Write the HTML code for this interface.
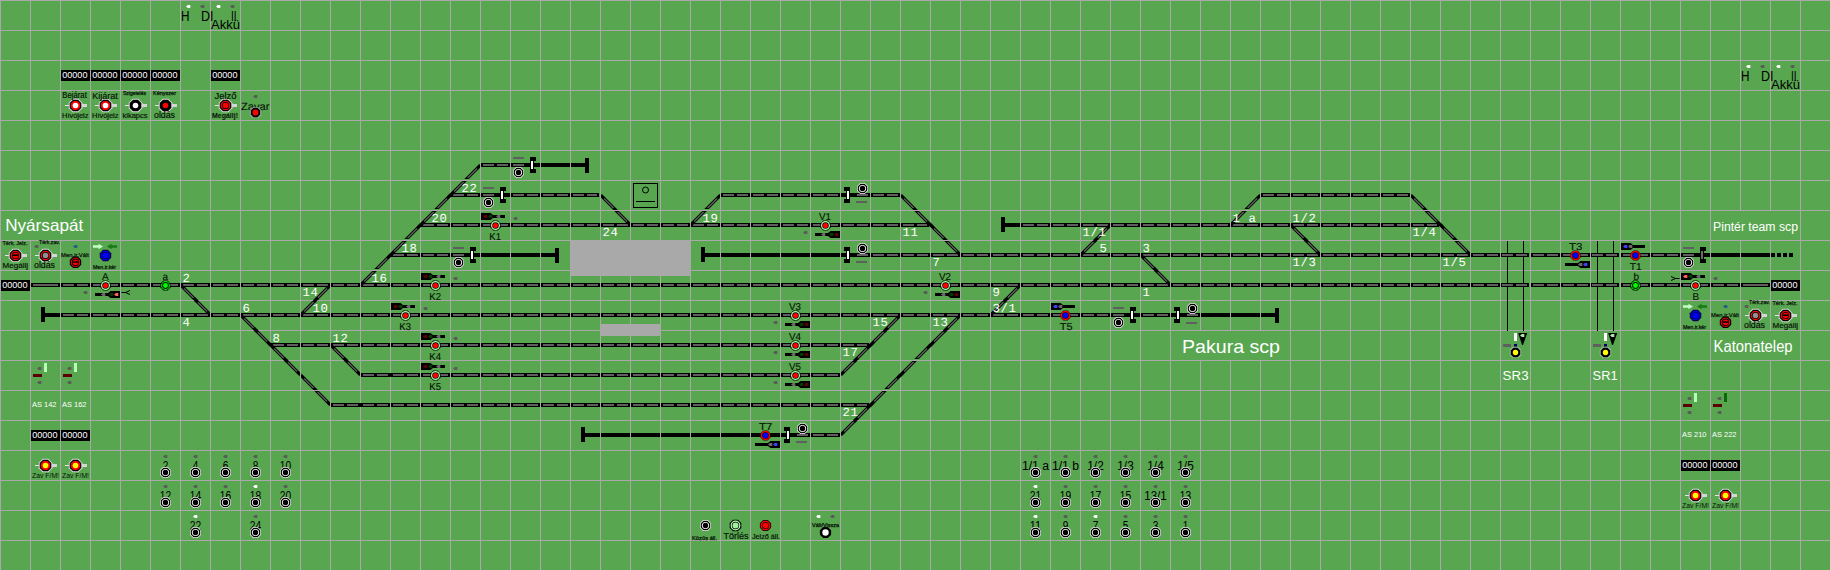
<!DOCTYPE html>
<html lang="hu"><head><meta charset="utf-8"><title>Nyársapát – Katonatelep</title>
<style>html,body{margin:0;padding:0;background:#58a650;overflow:hidden}svg{display:block}text{white-space:pre}</style>
</head><body>
<svg width="1830" height="570" viewBox="0 0 1830 570">
<rect width="1830" height="570" fill="#58a650"/>
<g shape-rendering="crispEdges">
<rect x="480" y="163" width="50" height="4" fill="#000"/>
<rect x="483" y="164" width="11" height="2" fill="#5f5f5f"/>
<rect x="497" y="164" width="11" height="2" fill="#5f5f5f"/>
<rect x="513" y="164" width="11" height="2" fill="#5f5f5f"/>
<rect x="530" y="163" width="56" height="4" fill="#000"/>
<rect x="450" y="193" width="149" height="4" fill="#000"/>
<rect x="453" y="194" width="11" height="2" fill="#5f5f5f"/>
<rect x="467" y="194" width="11" height="2" fill="#5f5f5f"/>
<rect x="483" y="194" width="11" height="2" fill="#5f5f5f"/>
<rect x="513" y="194" width="11" height="2" fill="#5f5f5f"/>
<rect x="527" y="194" width="11" height="2" fill="#5f5f5f"/>
<rect x="543" y="194" width="11" height="2" fill="#5f5f5f"/>
<rect x="557" y="194" width="11" height="2" fill="#5f5f5f"/>
<rect x="573" y="194" width="11" height="2" fill="#5f5f5f"/>
<rect x="587" y="194" width="10" height="2" fill="#5f5f5f"/>
<rect x="720" y="193" width="180" height="4" fill="#000"/>
<rect x="723" y="194" width="11" height="2" fill="#5f5f5f"/>
<rect x="737" y="194" width="11" height="2" fill="#5f5f5f"/>
<rect x="753" y="194" width="11" height="2" fill="#5f5f5f"/>
<rect x="767" y="194" width="11" height="2" fill="#5f5f5f"/>
<rect x="783" y="194" width="11" height="2" fill="#5f5f5f"/>
<rect x="797" y="194" width="11" height="2" fill="#5f5f5f"/>
<rect x="813" y="194" width="11" height="2" fill="#5f5f5f"/>
<rect x="827" y="194" width="11" height="2" fill="#5f5f5f"/>
<rect x="857" y="194" width="11" height="2" fill="#5f5f5f"/>
<rect x="873" y="194" width="11" height="2" fill="#5f5f5f"/>
<rect x="887" y="194" width="11" height="2" fill="#5f5f5f"/>
<rect x="1260" y="193" width="150" height="4" fill="#000"/>
<rect x="1263" y="194" width="11" height="2" fill="#5f5f5f"/>
<rect x="1277" y="194" width="11" height="2" fill="#5f5f5f"/>
<rect x="1293" y="194" width="11" height="2" fill="#5f5f5f"/>
<rect x="1307" y="194" width="11" height="2" fill="#5f5f5f"/>
<rect x="1323" y="194" width="11" height="2" fill="#5f5f5f"/>
<rect x="1337" y="194" width="11" height="2" fill="#5f5f5f"/>
<rect x="1353" y="194" width="11" height="2" fill="#5f5f5f"/>
<rect x="1367" y="194" width="11" height="2" fill="#5f5f5f"/>
<rect x="1383" y="194" width="11" height="2" fill="#5f5f5f"/>
<rect x="1397" y="194" width="11" height="2" fill="#5f5f5f"/>
<rect x="420" y="223" width="509" height="4" fill="#000"/>
<rect x="423" y="224" width="11" height="2" fill="#5f5f5f"/>
<rect x="437" y="224" width="11" height="2" fill="#5f5f5f"/>
<rect x="453" y="224" width="11" height="2" fill="#5f5f5f"/>
<rect x="467" y="224" width="11" height="2" fill="#5f5f5f"/>
<rect x="483" y="224" width="11" height="2" fill="#5f5f5f"/>
<rect x="497" y="224" width="11" height="2" fill="#5f5f5f"/>
<rect x="513" y="224" width="11" height="2" fill="#5f5f5f"/>
<rect x="527" y="224" width="11" height="2" fill="#5f5f5f"/>
<rect x="543" y="224" width="11" height="2" fill="#5f5f5f"/>
<rect x="557" y="224" width="11" height="2" fill="#5f5f5f"/>
<rect x="573" y="224" width="11" height="2" fill="#5f5f5f"/>
<rect x="587" y="224" width="11" height="2" fill="#5f5f5f"/>
<rect x="603" y="224" width="11" height="2" fill="#5f5f5f"/>
<rect x="617" y="224" width="11" height="2" fill="#5f5f5f"/>
<rect x="633" y="224" width="11" height="2" fill="#5f5f5f"/>
<rect x="647" y="224" width="11" height="2" fill="#5f5f5f"/>
<rect x="663" y="224" width="11" height="2" fill="#5f5f5f"/>
<rect x="677" y="224" width="11" height="2" fill="#5f5f5f"/>
<rect x="693" y="224" width="11" height="2" fill="#5f5f5f"/>
<rect x="707" y="224" width="11" height="2" fill="#5f5f5f"/>
<rect x="723" y="224" width="11" height="2" fill="#5f5f5f"/>
<rect x="737" y="224" width="11" height="2" fill="#5f5f5f"/>
<rect x="753" y="224" width="11" height="2" fill="#5f5f5f"/>
<rect x="767" y="224" width="11" height="2" fill="#5f5f5f"/>
<rect x="783" y="224" width="11" height="2" fill="#5f5f5f"/>
<rect x="797" y="224" width="11" height="2" fill="#5f5f5f"/>
<rect x="813" y="224" width="11" height="2" fill="#5f5f5f"/>
<rect x="827" y="224" width="11" height="2" fill="#5f5f5f"/>
<rect x="843" y="224" width="11" height="2" fill="#5f5f5f"/>
<rect x="857" y="224" width="11" height="2" fill="#5f5f5f"/>
<rect x="873" y="224" width="11" height="2" fill="#5f5f5f"/>
<rect x="887" y="224" width="11" height="2" fill="#5f5f5f"/>
<rect x="903" y="224" width="11" height="2" fill="#5f5f5f"/>
<rect x="917" y="224" width="10" height="2" fill="#5f5f5f"/>
<rect x="1005" y="223" width="15" height="4" fill="#000"/>
<rect x="1020" y="223" width="419" height="4" fill="#000"/>
<rect x="1023" y="224" width="11" height="2" fill="#5f5f5f"/>
<rect x="1037" y="224" width="11" height="2" fill="#5f5f5f"/>
<rect x="1053" y="224" width="11" height="2" fill="#5f5f5f"/>
<rect x="1067" y="224" width="11" height="2" fill="#5f5f5f"/>
<rect x="1083" y="224" width="11" height="2" fill="#5f5f5f"/>
<rect x="1097" y="224" width="11" height="2" fill="#5f5f5f"/>
<rect x="1113" y="224" width="11" height="2" fill="#5f5f5f"/>
<rect x="1127" y="224" width="11" height="2" fill="#5f5f5f"/>
<rect x="1143" y="224" width="11" height="2" fill="#5f5f5f"/>
<rect x="1157" y="224" width="11" height="2" fill="#5f5f5f"/>
<rect x="1173" y="224" width="11" height="2" fill="#5f5f5f"/>
<rect x="1187" y="224" width="11" height="2" fill="#5f5f5f"/>
<rect x="1203" y="224" width="11" height="2" fill="#5f5f5f"/>
<rect x="1217" y="224" width="11" height="2" fill="#5f5f5f"/>
<rect x="1233" y="224" width="11" height="2" fill="#5f5f5f"/>
<rect x="1247" y="224" width="11" height="2" fill="#5f5f5f"/>
<rect x="1263" y="224" width="11" height="2" fill="#5f5f5f"/>
<rect x="1277" y="224" width="11" height="2" fill="#5f5f5f"/>
<rect x="1293" y="224" width="11" height="2" fill="#5f5f5f"/>
<rect x="1307" y="224" width="11" height="2" fill="#5f5f5f"/>
<rect x="1323" y="224" width="11" height="2" fill="#5f5f5f"/>
<rect x="1337" y="224" width="11" height="2" fill="#5f5f5f"/>
<rect x="1353" y="224" width="11" height="2" fill="#5f5f5f"/>
<rect x="1367" y="224" width="11" height="2" fill="#5f5f5f"/>
<rect x="1383" y="224" width="11" height="2" fill="#5f5f5f"/>
<rect x="1397" y="224" width="11" height="2" fill="#5f5f5f"/>
<rect x="1413" y="224" width="11" height="2" fill="#5f5f5f"/>
<rect x="1427" y="224" width="10" height="2" fill="#5f5f5f"/>
<rect x="390" y="253" width="80" height="4" fill="#000"/>
<rect x="393" y="254" width="11" height="2" fill="#5f5f5f"/>
<rect x="407" y="254" width="11" height="2" fill="#5f5f5f"/>
<rect x="423" y="254" width="11" height="2" fill="#5f5f5f"/>
<rect x="437" y="254" width="11" height="2" fill="#5f5f5f"/>
<rect x="453" y="254" width="11" height="2" fill="#5f5f5f"/>
<rect x="470" y="253" width="86" height="4" fill="#000"/>
<rect x="705" y="253" width="141" height="4" fill="#000"/>
<rect x="846" y="253" width="856" height="4" fill="#000"/>
<rect x="857" y="254" width="11" height="2" fill="#5f5f5f"/>
<rect x="873" y="254" width="11" height="2" fill="#5f5f5f"/>
<rect x="887" y="254" width="11" height="2" fill="#5f5f5f"/>
<rect x="903" y="254" width="11" height="2" fill="#5f5f5f"/>
<rect x="917" y="254" width="11" height="2" fill="#5f5f5f"/>
<rect x="933" y="254" width="11" height="2" fill="#5f5f5f"/>
<rect x="947" y="254" width="11" height="2" fill="#5f5f5f"/>
<rect x="963" y="254" width="11" height="2" fill="#5f5f5f"/>
<rect x="977" y="254" width="11" height="2" fill="#5f5f5f"/>
<rect x="993" y="254" width="11" height="2" fill="#5f5f5f"/>
<rect x="1007" y="254" width="11" height="2" fill="#5f5f5f"/>
<rect x="1023" y="254" width="11" height="2" fill="#5f5f5f"/>
<rect x="1037" y="254" width="11" height="2" fill="#5f5f5f"/>
<rect x="1053" y="254" width="11" height="2" fill="#5f5f5f"/>
<rect x="1067" y="254" width="11" height="2" fill="#5f5f5f"/>
<rect x="1083" y="254" width="11" height="2" fill="#5f5f5f"/>
<rect x="1097" y="254" width="11" height="2" fill="#5f5f5f"/>
<rect x="1113" y="254" width="11" height="2" fill="#5f5f5f"/>
<rect x="1127" y="254" width="11" height="2" fill="#5f5f5f"/>
<rect x="1143" y="254" width="11" height="2" fill="#5f5f5f"/>
<rect x="1157" y="254" width="11" height="2" fill="#5f5f5f"/>
<rect x="1173" y="254" width="11" height="2" fill="#5f5f5f"/>
<rect x="1187" y="254" width="11" height="2" fill="#5f5f5f"/>
<rect x="1203" y="254" width="11" height="2" fill="#5f5f5f"/>
<rect x="1217" y="254" width="11" height="2" fill="#5f5f5f"/>
<rect x="1233" y="254" width="11" height="2" fill="#5f5f5f"/>
<rect x="1247" y="254" width="11" height="2" fill="#5f5f5f"/>
<rect x="1263" y="254" width="11" height="2" fill="#5f5f5f"/>
<rect x="1277" y="254" width="11" height="2" fill="#5f5f5f"/>
<rect x="1293" y="254" width="11" height="2" fill="#5f5f5f"/>
<rect x="1307" y="254" width="11" height="2" fill="#5f5f5f"/>
<rect x="1323" y="254" width="11" height="2" fill="#5f5f5f"/>
<rect x="1337" y="254" width="11" height="2" fill="#5f5f5f"/>
<rect x="1353" y="254" width="11" height="2" fill="#5f5f5f"/>
<rect x="1367" y="254" width="11" height="2" fill="#5f5f5f"/>
<rect x="1383" y="254" width="11" height="2" fill="#5f5f5f"/>
<rect x="1397" y="254" width="11" height="2" fill="#5f5f5f"/>
<rect x="1413" y="254" width="11" height="2" fill="#5f5f5f"/>
<rect x="1427" y="254" width="11" height="2" fill="#5f5f5f"/>
<rect x="1443" y="254" width="11" height="2" fill="#5f5f5f"/>
<rect x="1457" y="254" width="11" height="2" fill="#5f5f5f"/>
<rect x="1473" y="254" width="11" height="2" fill="#5f5f5f"/>
<rect x="1487" y="254" width="11" height="2" fill="#5f5f5f"/>
<rect x="1503" y="254" width="11" height="2" fill="#5f5f5f"/>
<rect x="1517" y="254" width="11" height="2" fill="#5f5f5f"/>
<rect x="1533" y="254" width="11" height="2" fill="#5f5f5f"/>
<rect x="1547" y="254" width="11" height="2" fill="#5f5f5f"/>
<rect x="1563" y="254" width="11" height="2" fill="#5f5f5f"/>
<rect x="1577" y="254" width="11" height="2" fill="#5f5f5f"/>
<rect x="1593" y="254" width="11" height="2" fill="#5f5f5f"/>
<rect x="1607" y="254" width="11" height="2" fill="#5f5f5f"/>
<rect x="1623" y="254" width="11" height="2" fill="#5f5f5f"/>
<rect x="1637" y="254" width="11" height="2" fill="#5f5f5f"/>
<rect x="1653" y="254" width="11" height="2" fill="#5f5f5f"/>
<rect x="1667" y="254" width="11" height="2" fill="#5f5f5f"/>
<rect x="1683" y="254" width="11" height="2" fill="#5f5f5f"/>
<rect x="1702" y="253" width="68" height="4" fill="#000"/>
<rect x="1771" y="253" width="4" height="4" fill="#000"/>
<rect x="1777" y="253" width="4" height="4" fill="#000"/>
<rect x="1783" y="253" width="4" height="4" fill="#000"/>
<rect x="1789" y="253" width="4" height="4" fill="#000"/>
<rect x="30" y="283" width="1740" height="4" fill="#000"/>
<rect x="33" y="284" width="25" height="2" fill="#5f5f5f"/>
<rect x="63" y="284" width="11" height="2" fill="#5f5f5f"/>
<rect x="77" y="284" width="11" height="2" fill="#5f5f5f"/>
<rect x="93" y="284" width="11" height="2" fill="#5f5f5f"/>
<rect x="107" y="284" width="11" height="2" fill="#5f5f5f"/>
<rect x="123" y="284" width="11" height="2" fill="#5f5f5f"/>
<rect x="137" y="284" width="11" height="2" fill="#5f5f5f"/>
<rect x="153" y="284" width="11" height="2" fill="#5f5f5f"/>
<rect x="167" y="284" width="11" height="2" fill="#5f5f5f"/>
<rect x="183" y="284" width="11" height="2" fill="#5f5f5f"/>
<rect x="197" y="284" width="11" height="2" fill="#5f5f5f"/>
<rect x="213" y="284" width="11" height="2" fill="#5f5f5f"/>
<rect x="227" y="284" width="11" height="2" fill="#5f5f5f"/>
<rect x="243" y="284" width="11" height="2" fill="#5f5f5f"/>
<rect x="257" y="284" width="11" height="2" fill="#5f5f5f"/>
<rect x="273" y="284" width="11" height="2" fill="#5f5f5f"/>
<rect x="287" y="284" width="11" height="2" fill="#5f5f5f"/>
<rect x="303" y="284" width="11" height="2" fill="#5f5f5f"/>
<rect x="317" y="284" width="11" height="2" fill="#5f5f5f"/>
<rect x="333" y="284" width="11" height="2" fill="#5f5f5f"/>
<rect x="347" y="284" width="11" height="2" fill="#5f5f5f"/>
<rect x="363" y="284" width="11" height="2" fill="#5f5f5f"/>
<rect x="377" y="284" width="11" height="2" fill="#5f5f5f"/>
<rect x="393" y="284" width="11" height="2" fill="#5f5f5f"/>
<rect x="407" y="284" width="11" height="2" fill="#5f5f5f"/>
<rect x="423" y="284" width="11" height="2" fill="#5f5f5f"/>
<rect x="437" y="284" width="11" height="2" fill="#5f5f5f"/>
<rect x="453" y="284" width="11" height="2" fill="#5f5f5f"/>
<rect x="467" y="284" width="11" height="2" fill="#5f5f5f"/>
<rect x="483" y="284" width="11" height="2" fill="#5f5f5f"/>
<rect x="497" y="284" width="11" height="2" fill="#5f5f5f"/>
<rect x="513" y="284" width="11" height="2" fill="#5f5f5f"/>
<rect x="527" y="284" width="11" height="2" fill="#5f5f5f"/>
<rect x="543" y="284" width="11" height="2" fill="#5f5f5f"/>
<rect x="557" y="284" width="11" height="2" fill="#5f5f5f"/>
<rect x="573" y="284" width="11" height="2" fill="#5f5f5f"/>
<rect x="587" y="284" width="11" height="2" fill="#5f5f5f"/>
<rect x="603" y="284" width="11" height="2" fill="#5f5f5f"/>
<rect x="617" y="284" width="11" height="2" fill="#5f5f5f"/>
<rect x="633" y="284" width="11" height="2" fill="#5f5f5f"/>
<rect x="647" y="284" width="11" height="2" fill="#5f5f5f"/>
<rect x="663" y="284" width="11" height="2" fill="#5f5f5f"/>
<rect x="677" y="284" width="11" height="2" fill="#5f5f5f"/>
<rect x="693" y="284" width="11" height="2" fill="#5f5f5f"/>
<rect x="707" y="284" width="11" height="2" fill="#5f5f5f"/>
<rect x="723" y="284" width="11" height="2" fill="#5f5f5f"/>
<rect x="737" y="284" width="11" height="2" fill="#5f5f5f"/>
<rect x="753" y="284" width="11" height="2" fill="#5f5f5f"/>
<rect x="767" y="284" width="11" height="2" fill="#5f5f5f"/>
<rect x="783" y="284" width="11" height="2" fill="#5f5f5f"/>
<rect x="797" y="284" width="11" height="2" fill="#5f5f5f"/>
<rect x="813" y="284" width="11" height="2" fill="#5f5f5f"/>
<rect x="827" y="284" width="11" height="2" fill="#5f5f5f"/>
<rect x="843" y="284" width="11" height="2" fill="#5f5f5f"/>
<rect x="857" y="284" width="11" height="2" fill="#5f5f5f"/>
<rect x="873" y="284" width="11" height="2" fill="#5f5f5f"/>
<rect x="887" y="284" width="11" height="2" fill="#5f5f5f"/>
<rect x="903" y="284" width="11" height="2" fill="#5f5f5f"/>
<rect x="917" y="284" width="11" height="2" fill="#5f5f5f"/>
<rect x="933" y="284" width="11" height="2" fill="#5f5f5f"/>
<rect x="947" y="284" width="11" height="2" fill="#5f5f5f"/>
<rect x="963" y="284" width="11" height="2" fill="#5f5f5f"/>
<rect x="977" y="284" width="11" height="2" fill="#5f5f5f"/>
<rect x="993" y="284" width="11" height="2" fill="#5f5f5f"/>
<rect x="1007" y="284" width="11" height="2" fill="#5f5f5f"/>
<rect x="1023" y="284" width="11" height="2" fill="#5f5f5f"/>
<rect x="1037" y="284" width="11" height="2" fill="#5f5f5f"/>
<rect x="1053" y="284" width="11" height="2" fill="#5f5f5f"/>
<rect x="1067" y="284" width="11" height="2" fill="#5f5f5f"/>
<rect x="1083" y="284" width="11" height="2" fill="#5f5f5f"/>
<rect x="1097" y="284" width="11" height="2" fill="#5f5f5f"/>
<rect x="1113" y="284" width="11" height="2" fill="#5f5f5f"/>
<rect x="1127" y="284" width="11" height="2" fill="#5f5f5f"/>
<rect x="1143" y="284" width="11" height="2" fill="#5f5f5f"/>
<rect x="1157" y="284" width="11" height="2" fill="#5f5f5f"/>
<rect x="1173" y="284" width="11" height="2" fill="#5f5f5f"/>
<rect x="1187" y="284" width="11" height="2" fill="#5f5f5f"/>
<rect x="1203" y="284" width="11" height="2" fill="#5f5f5f"/>
<rect x="1217" y="284" width="11" height="2" fill="#5f5f5f"/>
<rect x="1233" y="284" width="11" height="2" fill="#5f5f5f"/>
<rect x="1247" y="284" width="11" height="2" fill="#5f5f5f"/>
<rect x="1263" y="284" width="11" height="2" fill="#5f5f5f"/>
<rect x="1277" y="284" width="11" height="2" fill="#5f5f5f"/>
<rect x="1293" y="284" width="11" height="2" fill="#5f5f5f"/>
<rect x="1307" y="284" width="11" height="2" fill="#5f5f5f"/>
<rect x="1323" y="284" width="11" height="2" fill="#5f5f5f"/>
<rect x="1337" y="284" width="11" height="2" fill="#5f5f5f"/>
<rect x="1353" y="284" width="11" height="2" fill="#5f5f5f"/>
<rect x="1367" y="284" width="11" height="2" fill="#5f5f5f"/>
<rect x="1383" y="284" width="11" height="2" fill="#5f5f5f"/>
<rect x="1397" y="284" width="11" height="2" fill="#5f5f5f"/>
<rect x="1413" y="284" width="11" height="2" fill="#5f5f5f"/>
<rect x="1427" y="284" width="11" height="2" fill="#5f5f5f"/>
<rect x="1443" y="284" width="11" height="2" fill="#5f5f5f"/>
<rect x="1457" y="284" width="11" height="2" fill="#5f5f5f"/>
<rect x="1473" y="284" width="11" height="2" fill="#5f5f5f"/>
<rect x="1487" y="284" width="11" height="2" fill="#5f5f5f"/>
<rect x="1503" y="284" width="11" height="2" fill="#5f5f5f"/>
<rect x="1517" y="284" width="11" height="2" fill="#5f5f5f"/>
<rect x="1533" y="284" width="11" height="2" fill="#5f5f5f"/>
<rect x="1547" y="284" width="11" height="2" fill="#5f5f5f"/>
<rect x="1563" y="284" width="11" height="2" fill="#5f5f5f"/>
<rect x="1577" y="284" width="11" height="2" fill="#5f5f5f"/>
<rect x="1593" y="284" width="11" height="2" fill="#5f5f5f"/>
<rect x="1607" y="284" width="11" height="2" fill="#5f5f5f"/>
<rect x="1623" y="284" width="11" height="2" fill="#5f5f5f"/>
<rect x="1637" y="284" width="11" height="2" fill="#5f5f5f"/>
<rect x="1653" y="284" width="11" height="2" fill="#5f5f5f"/>
<rect x="1667" y="284" width="11" height="2" fill="#5f5f5f"/>
<rect x="1683" y="284" width="11" height="2" fill="#5f5f5f"/>
<rect x="1697" y="284" width="11" height="2" fill="#5f5f5f"/>
<rect x="1713" y="284" width="11" height="2" fill="#5f5f5f"/>
<rect x="1727" y="284" width="11" height="2" fill="#5f5f5f"/>
<rect x="1743" y="284" width="25" height="2" fill="#5f5f5f"/>
<rect x="45" y="313" width="15" height="4" fill="#000"/>
<rect x="60" y="313" width="1140" height="4" fill="#000"/>
<rect x="63" y="314" width="11" height="2" fill="#5f5f5f"/>
<rect x="77" y="314" width="11" height="2" fill="#5f5f5f"/>
<rect x="93" y="314" width="11" height="2" fill="#5f5f5f"/>
<rect x="107" y="314" width="11" height="2" fill="#5f5f5f"/>
<rect x="123" y="314" width="11" height="2" fill="#5f5f5f"/>
<rect x="137" y="314" width="11" height="2" fill="#5f5f5f"/>
<rect x="153" y="314" width="11" height="2" fill="#5f5f5f"/>
<rect x="167" y="314" width="11" height="2" fill="#5f5f5f"/>
<rect x="183" y="314" width="11" height="2" fill="#5f5f5f"/>
<rect x="197" y="314" width="11" height="2" fill="#5f5f5f"/>
<rect x="213" y="314" width="11" height="2" fill="#5f5f5f"/>
<rect x="227" y="314" width="11" height="2" fill="#5f5f5f"/>
<rect x="243" y="314" width="11" height="2" fill="#5f5f5f"/>
<rect x="257" y="314" width="11" height="2" fill="#5f5f5f"/>
<rect x="273" y="314" width="11" height="2" fill="#5f5f5f"/>
<rect x="287" y="314" width="11" height="2" fill="#5f5f5f"/>
<rect x="303" y="314" width="11" height="2" fill="#5f5f5f"/>
<rect x="317" y="314" width="11" height="2" fill="#5f5f5f"/>
<rect x="333" y="314" width="11" height="2" fill="#5f5f5f"/>
<rect x="347" y="314" width="11" height="2" fill="#5f5f5f"/>
<rect x="363" y="314" width="11" height="2" fill="#5f5f5f"/>
<rect x="377" y="314" width="11" height="2" fill="#5f5f5f"/>
<rect x="393" y="314" width="11" height="2" fill="#5f5f5f"/>
<rect x="407" y="314" width="11" height="2" fill="#5f5f5f"/>
<rect x="423" y="314" width="11" height="2" fill="#5f5f5f"/>
<rect x="437" y="314" width="11" height="2" fill="#5f5f5f"/>
<rect x="453" y="314" width="11" height="2" fill="#5f5f5f"/>
<rect x="467" y="314" width="11" height="2" fill="#5f5f5f"/>
<rect x="483" y="314" width="11" height="2" fill="#5f5f5f"/>
<rect x="497" y="314" width="11" height="2" fill="#5f5f5f"/>
<rect x="513" y="314" width="11" height="2" fill="#5f5f5f"/>
<rect x="527" y="314" width="11" height="2" fill="#5f5f5f"/>
<rect x="543" y="314" width="11" height="2" fill="#5f5f5f"/>
<rect x="557" y="314" width="11" height="2" fill="#5f5f5f"/>
<rect x="573" y="314" width="11" height="2" fill="#5f5f5f"/>
<rect x="587" y="314" width="11" height="2" fill="#5f5f5f"/>
<rect x="603" y="314" width="11" height="2" fill="#5f5f5f"/>
<rect x="617" y="314" width="11" height="2" fill="#5f5f5f"/>
<rect x="633" y="314" width="11" height="2" fill="#5f5f5f"/>
<rect x="647" y="314" width="11" height="2" fill="#5f5f5f"/>
<rect x="663" y="314" width="11" height="2" fill="#5f5f5f"/>
<rect x="677" y="314" width="11" height="2" fill="#5f5f5f"/>
<rect x="693" y="314" width="11" height="2" fill="#5f5f5f"/>
<rect x="707" y="314" width="11" height="2" fill="#5f5f5f"/>
<rect x="723" y="314" width="11" height="2" fill="#5f5f5f"/>
<rect x="737" y="314" width="11" height="2" fill="#5f5f5f"/>
<rect x="753" y="314" width="11" height="2" fill="#5f5f5f"/>
<rect x="767" y="314" width="11" height="2" fill="#5f5f5f"/>
<rect x="783" y="314" width="11" height="2" fill="#5f5f5f"/>
<rect x="797" y="314" width="11" height="2" fill="#5f5f5f"/>
<rect x="813" y="314" width="11" height="2" fill="#5f5f5f"/>
<rect x="827" y="314" width="11" height="2" fill="#5f5f5f"/>
<rect x="843" y="314" width="11" height="2" fill="#5f5f5f"/>
<rect x="857" y="314" width="11" height="2" fill="#5f5f5f"/>
<rect x="873" y="314" width="11" height="2" fill="#5f5f5f"/>
<rect x="887" y="314" width="11" height="2" fill="#5f5f5f"/>
<rect x="903" y="314" width="11" height="2" fill="#5f5f5f"/>
<rect x="917" y="314" width="11" height="2" fill="#5f5f5f"/>
<rect x="933" y="314" width="11" height="2" fill="#5f5f5f"/>
<rect x="947" y="314" width="11" height="2" fill="#5f5f5f"/>
<rect x="963" y="314" width="11" height="2" fill="#5f5f5f"/>
<rect x="977" y="314" width="11" height="2" fill="#5f5f5f"/>
<rect x="993" y="314" width="11" height="2" fill="#5f5f5f"/>
<rect x="1007" y="314" width="11" height="2" fill="#5f5f5f"/>
<rect x="1023" y="314" width="11" height="2" fill="#5f5f5f"/>
<rect x="1037" y="314" width="11" height="2" fill="#5f5f5f"/>
<rect x="1053" y="314" width="11" height="2" fill="#5f5f5f"/>
<rect x="1067" y="314" width="11" height="2" fill="#5f5f5f"/>
<rect x="1083" y="314" width="11" height="2" fill="#5f5f5f"/>
<rect x="1097" y="314" width="11" height="2" fill="#5f5f5f"/>
<rect x="1113" y="314" width="11" height="2" fill="#5f5f5f"/>
<rect x="1143" y="314" width="11" height="2" fill="#5f5f5f"/>
<rect x="1157" y="314" width="11" height="2" fill="#5f5f5f"/>
<rect x="1187" y="314" width="11" height="2" fill="#5f5f5f"/>
<rect x="1199" y="313" width="77" height="4" fill="#000"/>
<rect x="270" y="343" width="599" height="4" fill="#000"/>
<rect x="273" y="344" width="11" height="2" fill="#5f5f5f"/>
<rect x="287" y="344" width="11" height="2" fill="#5f5f5f"/>
<rect x="303" y="344" width="11" height="2" fill="#5f5f5f"/>
<rect x="317" y="344" width="11" height="2" fill="#5f5f5f"/>
<rect x="333" y="344" width="11" height="2" fill="#5f5f5f"/>
<rect x="347" y="344" width="11" height="2" fill="#5f5f5f"/>
<rect x="363" y="344" width="11" height="2" fill="#5f5f5f"/>
<rect x="377" y="344" width="11" height="2" fill="#5f5f5f"/>
<rect x="393" y="344" width="11" height="2" fill="#5f5f5f"/>
<rect x="407" y="344" width="11" height="2" fill="#5f5f5f"/>
<rect x="423" y="344" width="11" height="2" fill="#5f5f5f"/>
<rect x="437" y="344" width="11" height="2" fill="#5f5f5f"/>
<rect x="453" y="344" width="11" height="2" fill="#5f5f5f"/>
<rect x="467" y="344" width="11" height="2" fill="#5f5f5f"/>
<rect x="483" y="344" width="11" height="2" fill="#5f5f5f"/>
<rect x="497" y="344" width="11" height="2" fill="#5f5f5f"/>
<rect x="513" y="344" width="11" height="2" fill="#5f5f5f"/>
<rect x="527" y="344" width="11" height="2" fill="#5f5f5f"/>
<rect x="543" y="344" width="11" height="2" fill="#5f5f5f"/>
<rect x="557" y="344" width="11" height="2" fill="#5f5f5f"/>
<rect x="573" y="344" width="11" height="2" fill="#5f5f5f"/>
<rect x="587" y="344" width="11" height="2" fill="#5f5f5f"/>
<rect x="603" y="344" width="11" height="2" fill="#5f5f5f"/>
<rect x="617" y="344" width="11" height="2" fill="#5f5f5f"/>
<rect x="633" y="344" width="11" height="2" fill="#5f5f5f"/>
<rect x="647" y="344" width="11" height="2" fill="#5f5f5f"/>
<rect x="663" y="344" width="11" height="2" fill="#5f5f5f"/>
<rect x="677" y="344" width="11" height="2" fill="#5f5f5f"/>
<rect x="693" y="344" width="11" height="2" fill="#5f5f5f"/>
<rect x="707" y="344" width="11" height="2" fill="#5f5f5f"/>
<rect x="723" y="344" width="11" height="2" fill="#5f5f5f"/>
<rect x="737" y="344" width="11" height="2" fill="#5f5f5f"/>
<rect x="753" y="344" width="11" height="2" fill="#5f5f5f"/>
<rect x="767" y="344" width="11" height="2" fill="#5f5f5f"/>
<rect x="783" y="344" width="11" height="2" fill="#5f5f5f"/>
<rect x="797" y="344" width="11" height="2" fill="#5f5f5f"/>
<rect x="813" y="344" width="11" height="2" fill="#5f5f5f"/>
<rect x="827" y="344" width="11" height="2" fill="#5f5f5f"/>
<rect x="843" y="344" width="11" height="2" fill="#5f5f5f"/>
<rect x="857" y="344" width="10" height="2" fill="#5f5f5f"/>
<rect x="360" y="373" width="480" height="4" fill="#000"/>
<rect x="363" y="374" width="11" height="2" fill="#5f5f5f"/>
<rect x="377" y="374" width="11" height="2" fill="#5f5f5f"/>
<rect x="393" y="374" width="11" height="2" fill="#5f5f5f"/>
<rect x="407" y="374" width="11" height="2" fill="#5f5f5f"/>
<rect x="423" y="374" width="11" height="2" fill="#5f5f5f"/>
<rect x="437" y="374" width="11" height="2" fill="#5f5f5f"/>
<rect x="453" y="374" width="11" height="2" fill="#5f5f5f"/>
<rect x="467" y="374" width="11" height="2" fill="#5f5f5f"/>
<rect x="483" y="374" width="11" height="2" fill="#5f5f5f"/>
<rect x="497" y="374" width="11" height="2" fill="#5f5f5f"/>
<rect x="513" y="374" width="11" height="2" fill="#5f5f5f"/>
<rect x="527" y="374" width="11" height="2" fill="#5f5f5f"/>
<rect x="543" y="374" width="11" height="2" fill="#5f5f5f"/>
<rect x="557" y="374" width="11" height="2" fill="#5f5f5f"/>
<rect x="573" y="374" width="11" height="2" fill="#5f5f5f"/>
<rect x="587" y="374" width="11" height="2" fill="#5f5f5f"/>
<rect x="603" y="374" width="11" height="2" fill="#5f5f5f"/>
<rect x="617" y="374" width="11" height="2" fill="#5f5f5f"/>
<rect x="633" y="374" width="11" height="2" fill="#5f5f5f"/>
<rect x="647" y="374" width="11" height="2" fill="#5f5f5f"/>
<rect x="663" y="374" width="11" height="2" fill="#5f5f5f"/>
<rect x="677" y="374" width="11" height="2" fill="#5f5f5f"/>
<rect x="693" y="374" width="11" height="2" fill="#5f5f5f"/>
<rect x="707" y="374" width="11" height="2" fill="#5f5f5f"/>
<rect x="723" y="374" width="11" height="2" fill="#5f5f5f"/>
<rect x="737" y="374" width="11" height="2" fill="#5f5f5f"/>
<rect x="753" y="374" width="11" height="2" fill="#5f5f5f"/>
<rect x="767" y="374" width="11" height="2" fill="#5f5f5f"/>
<rect x="783" y="374" width="11" height="2" fill="#5f5f5f"/>
<rect x="797" y="374" width="11" height="2" fill="#5f5f5f"/>
<rect x="813" y="374" width="11" height="2" fill="#5f5f5f"/>
<rect x="827" y="374" width="11" height="2" fill="#5f5f5f"/>
<rect x="330" y="403" width="539" height="4" fill="#000"/>
<rect x="333" y="404" width="11" height="2" fill="#5f5f5f"/>
<rect x="347" y="404" width="11" height="2" fill="#5f5f5f"/>
<rect x="363" y="404" width="11" height="2" fill="#5f5f5f"/>
<rect x="377" y="404" width="11" height="2" fill="#5f5f5f"/>
<rect x="393" y="404" width="11" height="2" fill="#5f5f5f"/>
<rect x="407" y="404" width="11" height="2" fill="#5f5f5f"/>
<rect x="423" y="404" width="11" height="2" fill="#5f5f5f"/>
<rect x="437" y="404" width="11" height="2" fill="#5f5f5f"/>
<rect x="453" y="404" width="11" height="2" fill="#5f5f5f"/>
<rect x="467" y="404" width="11" height="2" fill="#5f5f5f"/>
<rect x="483" y="404" width="11" height="2" fill="#5f5f5f"/>
<rect x="497" y="404" width="11" height="2" fill="#5f5f5f"/>
<rect x="513" y="404" width="11" height="2" fill="#5f5f5f"/>
<rect x="527" y="404" width="11" height="2" fill="#5f5f5f"/>
<rect x="543" y="404" width="11" height="2" fill="#5f5f5f"/>
<rect x="557" y="404" width="11" height="2" fill="#5f5f5f"/>
<rect x="573" y="404" width="11" height="2" fill="#5f5f5f"/>
<rect x="587" y="404" width="11" height="2" fill="#5f5f5f"/>
<rect x="603" y="404" width="11" height="2" fill="#5f5f5f"/>
<rect x="617" y="404" width="11" height="2" fill="#5f5f5f"/>
<rect x="633" y="404" width="11" height="2" fill="#5f5f5f"/>
<rect x="647" y="404" width="11" height="2" fill="#5f5f5f"/>
<rect x="663" y="404" width="11" height="2" fill="#5f5f5f"/>
<rect x="677" y="404" width="11" height="2" fill="#5f5f5f"/>
<rect x="693" y="404" width="11" height="2" fill="#5f5f5f"/>
<rect x="707" y="404" width="11" height="2" fill="#5f5f5f"/>
<rect x="723" y="404" width="11" height="2" fill="#5f5f5f"/>
<rect x="737" y="404" width="11" height="2" fill="#5f5f5f"/>
<rect x="753" y="404" width="11" height="2" fill="#5f5f5f"/>
<rect x="767" y="404" width="11" height="2" fill="#5f5f5f"/>
<rect x="783" y="404" width="11" height="2" fill="#5f5f5f"/>
<rect x="797" y="404" width="11" height="2" fill="#5f5f5f"/>
<rect x="813" y="404" width="11" height="2" fill="#5f5f5f"/>
<rect x="827" y="404" width="11" height="2" fill="#5f5f5f"/>
<rect x="843" y="404" width="11" height="2" fill="#5f5f5f"/>
<rect x="857" y="404" width="10" height="2" fill="#5f5f5f"/>
<rect x="585" y="433" width="201" height="4" fill="#000"/>
<rect x="786" y="433" width="54" height="4" fill="#000"/>
<rect x="797" y="434" width="11" height="2" fill="#5f5f5f"/>
<rect x="813" y="434" width="11" height="2" fill="#5f5f5f"/>
<rect x="827" y="434" width="11" height="2" fill="#5f5f5f"/>
</g>
<line x1="180.79999999999998" y1="285.2" x2="210.4" y2="314.8" stroke="#000" stroke-width="3.2"/>
<line x1="184.1" y1="288.5" x2="193.6" y2="298" stroke="#5f5f5f" stroke-width="1.4"/>
<line x1="197.6" y1="302" x2="207.1" y2="311.5" stroke="#5f5f5f" stroke-width="1.4"/>
<line x1="240.79999999999998" y1="315.2" x2="270.40000000000003" y2="344.8" stroke="#000" stroke-width="3.2"/>
<line x1="244.1" y1="318.5" x2="253.6" y2="328" stroke="#5f5f5f" stroke-width="1.4"/>
<line x1="257.6" y1="332" x2="267.1" y2="341.5" stroke="#5f5f5f" stroke-width="1.4"/>
<line x1="270.8" y1="345.2" x2="300.40000000000003" y2="374.8" stroke="#000" stroke-width="3.2"/>
<line x1="274.1" y1="348.5" x2="283.6" y2="358" stroke="#5f5f5f" stroke-width="1.4"/>
<line x1="287.6" y1="362" x2="297.1" y2="371.5" stroke="#5f5f5f" stroke-width="1.4"/>
<line x1="300.8" y1="375.2" x2="330.40000000000003" y2="404.8" stroke="#000" stroke-width="3.2"/>
<line x1="304.1" y1="378.5" x2="313.6" y2="388" stroke="#5f5f5f" stroke-width="1.4"/>
<line x1="317.6" y1="392" x2="327.1" y2="401.5" stroke="#5f5f5f" stroke-width="1.4"/>
<line x1="300.8" y1="314.8" x2="330.40000000000003" y2="285.2" stroke="#000" stroke-width="3.2"/>
<line x1="304.1" y1="311.5" x2="313.6" y2="302" stroke="#5f5f5f" stroke-width="1.4"/>
<line x1="317.6" y1="298" x2="327.1" y2="288.5" stroke="#5f5f5f" stroke-width="1.4"/>
<line x1="330.8" y1="345.2" x2="360.40000000000003" y2="374.8" stroke="#000" stroke-width="3.2"/>
<line x1="334.1" y1="348.5" x2="343.6" y2="358" stroke="#5f5f5f" stroke-width="1.4"/>
<line x1="347.6" y1="362" x2="357.1" y2="371.5" stroke="#5f5f5f" stroke-width="1.4"/>
<line x1="360.8" y1="284.8" x2="390.40000000000003" y2="255.2" stroke="#000" stroke-width="3.2"/>
<line x1="364.1" y1="281.5" x2="373.6" y2="272" stroke="#5f5f5f" stroke-width="1.4"/>
<line x1="377.6" y1="268" x2="387.1" y2="258.5" stroke="#5f5f5f" stroke-width="1.4"/>
<rect x="370.6" y="269" width="10" height="1" fill="#58a650" shape-rendering="crispEdges"/>
<line x1="390.8" y1="254.8" x2="420.40000000000003" y2="225.2" stroke="#000" stroke-width="3.2"/>
<line x1="394.1" y1="251.5" x2="403.6" y2="242" stroke="#5f5f5f" stroke-width="1.4"/>
<line x1="407.6" y1="238" x2="417.1" y2="228.5" stroke="#5f5f5f" stroke-width="1.4"/>
<rect x="400.6" y="239" width="10" height="1" fill="#58a650" shape-rendering="crispEdges"/>
<line x1="420.8" y1="224.8" x2="450.40000000000003" y2="195.2" stroke="#000" stroke-width="3.2"/>
<line x1="424.1" y1="221.5" x2="433.6" y2="212" stroke="#5f5f5f" stroke-width="1.4"/>
<line x1="437.6" y1="208" x2="447.1" y2="198.5" stroke="#5f5f5f" stroke-width="1.4"/>
<rect x="430.6" y="209" width="10" height="1" fill="#58a650" shape-rendering="crispEdges"/>
<line x1="450.8" y1="194.8" x2="480.40000000000003" y2="165.2" stroke="#000" stroke-width="3.2"/>
<line x1="454.1" y1="191.5" x2="463.6" y2="182" stroke="#5f5f5f" stroke-width="1.4"/>
<line x1="467.6" y1="178" x2="477.1" y2="168.5" stroke="#5f5f5f" stroke-width="1.4"/>
<rect x="460.6" y="179" width="10" height="1" fill="#58a650" shape-rendering="crispEdges"/>
<line x1="600.8000000000001" y1="195.2" x2="630.4" y2="224.8" stroke="#000" stroke-width="3.2"/>
<line x1="604.1" y1="198.5" x2="613.6" y2="208" stroke="#5f5f5f" stroke-width="1.4"/>
<line x1="617.6" y1="212" x2="627.1" y2="221.5" stroke="#5f5f5f" stroke-width="1.4"/>
<line x1="690.8000000000001" y1="224.8" x2="720.4" y2="195.2" stroke="#000" stroke-width="3.2"/>
<line x1="694.1" y1="221.5" x2="703.6" y2="212" stroke="#5f5f5f" stroke-width="1.4"/>
<line x1="707.6" y1="208" x2="717.1" y2="198.5" stroke="#5f5f5f" stroke-width="1.4"/>
<rect x="700.6" y="209" width="10" height="1" fill="#58a650" shape-rendering="crispEdges"/>
<line x1="900.8000000000001" y1="195.2" x2="930.4" y2="224.8" stroke="#000" stroke-width="3.2"/>
<line x1="904.1" y1="198.5" x2="913.6" y2="208" stroke="#5f5f5f" stroke-width="1.4"/>
<line x1="917.6" y1="212" x2="927.1" y2="221.5" stroke="#5f5f5f" stroke-width="1.4"/>
<line x1="930.8000000000001" y1="225.2" x2="960.4" y2="254.8" stroke="#000" stroke-width="3.2"/>
<line x1="934.1" y1="228.5" x2="943.6" y2="238" stroke="#5f5f5f" stroke-width="1.4"/>
<line x1="947.6" y1="242" x2="957.1" y2="251.5" stroke="#5f5f5f" stroke-width="1.4"/>
<line x1="840.8000000000001" y1="374.8" x2="870.4" y2="345.2" stroke="#000" stroke-width="3.2"/>
<line x1="844.1" y1="371.5" x2="853.6" y2="362" stroke="#5f5f5f" stroke-width="1.4"/>
<line x1="857.6" y1="358" x2="867.1" y2="348.5" stroke="#5f5f5f" stroke-width="1.4"/>
<line x1="870.8000000000001" y1="344.8" x2="900.4" y2="315.2" stroke="#000" stroke-width="3.2"/>
<line x1="874.1" y1="341.5" x2="883.6" y2="332" stroke="#5f5f5f" stroke-width="1.4"/>
<line x1="887.6" y1="328" x2="897.1" y2="318.5" stroke="#5f5f5f" stroke-width="1.4"/>
<line x1="840.8000000000001" y1="434.8" x2="870.4" y2="405.2" stroke="#000" stroke-width="3.2"/>
<line x1="844.1" y1="431.5" x2="853.6" y2="422" stroke="#5f5f5f" stroke-width="1.4"/>
<line x1="857.6" y1="418" x2="867.1" y2="408.5" stroke="#5f5f5f" stroke-width="1.4"/>
<line x1="870.8000000000001" y1="404.8" x2="900.4" y2="375.2" stroke="#000" stroke-width="3.2"/>
<line x1="874.1" y1="401.5" x2="883.6" y2="392" stroke="#5f5f5f" stroke-width="1.4"/>
<line x1="887.6" y1="388" x2="897.1" y2="378.5" stroke="#5f5f5f" stroke-width="1.4"/>
<rect x="880.6" y="389" width="10" height="1" fill="#58a650" shape-rendering="crispEdges"/>
<line x1="900.8000000000001" y1="374.8" x2="930.4" y2="345.2" stroke="#000" stroke-width="3.2"/>
<line x1="904.1" y1="371.5" x2="913.6" y2="362" stroke="#5f5f5f" stroke-width="1.4"/>
<line x1="917.6" y1="358" x2="927.1" y2="348.5" stroke="#5f5f5f" stroke-width="1.4"/>
<rect x="910.6" y="359" width="10" height="1" fill="#58a650" shape-rendering="crispEdges"/>
<line x1="930.8000000000001" y1="344.8" x2="960.4" y2="315.2" stroke="#000" stroke-width="3.2"/>
<line x1="934.1" y1="341.5" x2="943.6" y2="332" stroke="#5f5f5f" stroke-width="1.4"/>
<line x1="947.6" y1="328" x2="957.1" y2="318.5" stroke="#5f5f5f" stroke-width="1.4"/>
<line x1="990.8000000000001" y1="314.8" x2="1020.4" y2="285.2" stroke="#000" stroke-width="3.2"/>
<line x1="994.1" y1="311.5" x2="1003.6" y2="302" stroke="#5f5f5f" stroke-width="1.4"/>
<line x1="1007.6" y1="298" x2="1017.1" y2="288.5" stroke="#5f5f5f" stroke-width="1.4"/>
<line x1="1080.8" y1="254.8" x2="1110.3999999999999" y2="225.2" stroke="#000" stroke-width="3.2"/>
<line x1="1084.1" y1="251.5" x2="1093.6" y2="242" stroke="#5f5f5f" stroke-width="1.4"/>
<line x1="1097.6" y1="238" x2="1107.1" y2="228.5" stroke="#5f5f5f" stroke-width="1.4"/>
<line x1="1140.8" y1="255.2" x2="1170.3999999999999" y2="284.8" stroke="#000" stroke-width="3.2"/>
<line x1="1144.1" y1="258.5" x2="1153.6" y2="268" stroke="#5f5f5f" stroke-width="1.4"/>
<line x1="1157.6" y1="272" x2="1167.1" y2="281.5" stroke="#5f5f5f" stroke-width="1.4"/>
<line x1="1230.8" y1="224.8" x2="1260.3999999999999" y2="195.2" stroke="#000" stroke-width="3.2"/>
<line x1="1234.1" y1="221.5" x2="1243.6" y2="212" stroke="#5f5f5f" stroke-width="1.4"/>
<line x1="1247.6" y1="208" x2="1257.1" y2="198.5" stroke="#5f5f5f" stroke-width="1.4"/>
<rect x="1240.6" y="209" width="10" height="1" fill="#58a650" shape-rendering="crispEdges"/>
<line x1="1290.8" y1="225.2" x2="1320.3999999999999" y2="254.8" stroke="#000" stroke-width="3.2"/>
<line x1="1294.1" y1="228.5" x2="1303.6" y2="238" stroke="#5f5f5f" stroke-width="1.4"/>
<line x1="1307.6" y1="242" x2="1317.1" y2="251.5" stroke="#5f5f5f" stroke-width="1.4"/>
<line x1="1410.8" y1="195.2" x2="1440.3999999999999" y2="224.8" stroke="#000" stroke-width="3.2"/>
<line x1="1414.1" y1="198.5" x2="1423.6" y2="208" stroke="#5f5f5f" stroke-width="1.4"/>
<line x1="1427.6" y1="212" x2="1437.1" y2="221.5" stroke="#5f5f5f" stroke-width="1.4"/>
<line x1="1440.8" y1="225.2" x2="1470.3999999999999" y2="254.8" stroke="#000" stroke-width="3.2"/>
<line x1="1444.1" y1="228.5" x2="1453.6" y2="238" stroke="#5f5f5f" stroke-width="1.4"/>
<line x1="1457.6" y1="242" x2="1467.1" y2="251.5" stroke="#5f5f5f" stroke-width="1.4"/>
<g shape-rendering="crispEdges">
<path d="M0.5 0V570M30.5 0V570M60.5 0V570M90.5 0V570M120.5 0V570M150.5 0V570M180.5 0V570M210.5 0V570M240.5 0V570M270.5 0V570M300.5 0V570M330.5 0V570M360.5 0V570M390.5 0V570M420.5 0V570M450.5 0V570M480.5 0V570M510.5 0V570M540.5 0V570M570.5 0V570M600.5 0V570M630.5 0V570M660.5 0V570M690.5 0V570M720.5 0V570M750.5 0V570M780.5 0V570M810.5 0V570M840.5 0V570M870.5 0V570M900.5 0V570M930.5 0V570M960.5 0V570M990.5 0V570M1020.5 0V570M1050.5 0V570M1080.5 0V570M1110.5 0V570M1140.5 0V570M1170.5 0V570M1200.5 0V570M1230.5 0V570M1260.5 0V570M1290.5 0V570M1320.5 0V570M1350.5 0V570M1380.5 0V570M1410.5 0V570M1440.5 0V570M1470.5 0V570M1500.5 0V570M1530.5 0V570M1560.5 0V570M1590.5 0V570M1620.5 0V570M1650.5 0V570M1680.5 0V570M1710.5 0V570M1740.5 0V570M1770.5 0V570M1800.5 0V570M0 0.5H1830M0 30.5H1830M0 60.5H1830M0 90.5H1830M0 120.5H1830M0 150.5H1830M0 180.5H1830M0 210.5H1830M0 240.5H1830M0 270.5H1830M0 300.5H1830M0 330.5H1830M0 360.5H1830M0 390.5H1830M0 420.5H1830M0 450.5H1830M0 480.5H1830M0 510.5H1830M0 540.5H1830" stroke="#a9a9a9" stroke-width="1" fill="none"/>
</g>
<line x1="194.0" y1="298.4" x2="197.79999999999998" y2="302.2" stroke="#000" stroke-width="3.2"/>
<line x1="254.0" y1="328.4" x2="257.8" y2="332.2" stroke="#000" stroke-width="3.2"/>
<line x1="284.0" y1="358.4" x2="287.8" y2="362.2" stroke="#000" stroke-width="3.2"/>
<line x1="314.0" y1="301.6" x2="317.8" y2="297.8" stroke="#000" stroke-width="3.2"/>
<line x1="344.0" y1="358.4" x2="347.8" y2="362.2" stroke="#000" stroke-width="3.2"/>
<line x1="854.0" y1="361.6" x2="857.8000000000001" y2="357.8" stroke="#000" stroke-width="3.2"/>
<line x1="884.0" y1="331.6" x2="887.8000000000001" y2="327.8" stroke="#000" stroke-width="3.2"/>
<line x1="854.0" y1="421.6" x2="857.8000000000001" y2="417.8" stroke="#000" stroke-width="3.2"/>
<line x1="944.0" y1="331.6" x2="947.8000000000001" y2="327.8" stroke="#000" stroke-width="3.2"/>
<line x1="1004.0" y1="301.6" x2="1007.8000000000001" y2="297.8" stroke="#000" stroke-width="3.2"/>
<line x1="1094.0" y1="241.6" x2="1097.8" y2="237.8" stroke="#000" stroke-width="3.2"/>
<line x1="1154.0" y1="268.4" x2="1157.8" y2="272.2" stroke="#000" stroke-width="3.2"/>
<line x1="1304.0" y1="238.4" x2="1307.8" y2="242.2" stroke="#000" stroke-width="3.2"/>
<line x1="268.8" y1="343.2" x2="272.4" y2="346.8" stroke="#000" stroke-width="3.2"/>
<line x1="388.8" y1="256.8" x2="392.4" y2="253.2" stroke="#000" stroke-width="3.2"/>
<line x1="418.8" y1="226.8" x2="422.4" y2="223.2" stroke="#000" stroke-width="3.2"/>
<line x1="448.8" y1="196.8" x2="452.4" y2="193.2" stroke="#000" stroke-width="3.2"/>
<line x1="928.8" y1="223.2" x2="932.4" y2="226.8" stroke="#000" stroke-width="3.2"/>
<line x1="868.8" y1="346.8" x2="872.4" y2="343.2" stroke="#000" stroke-width="3.2"/>
<line x1="868.8" y1="406.8" x2="872.4" y2="403.2" stroke="#000" stroke-width="3.2"/>
<line x1="898.8" y1="376.8" x2="902.4" y2="373.2" stroke="#000" stroke-width="3.2"/>
<line x1="928.8" y1="346.8" x2="932.4" y2="343.2" stroke="#000" stroke-width="3.2"/>
<line x1="1438.8" y1="223.2" x2="1442.4" y2="226.8" stroke="#000" stroke-width="3.2"/>
<g shape-rendering="crispEdges">
<rect x="570" y="240" width="121" height="36" fill="#a9a9a9"/>
<rect x="600" y="324" width="61" height="12" fill="#a9a9a9"/>
<rect x="390" y="373" width="1" height="4" fill="#000"/>
<rect x="360" y="403" width="1" height="4" fill="#000"/>
<rect x="585" y="158" width="4" height="15" fill="#000"/>
<rect x="555" y="248" width="4" height="15" fill="#000"/>
<rect x="701" y="247" width="4" height="15" fill="#000"/>
<rect x="1001" y="217" width="4" height="15" fill="#000"/>
<rect x="41" y="307" width="4" height="15" fill="#000"/>
<rect x="1275" y="308" width="4" height="15" fill="#000"/>
<rect x="581" y="427" width="4" height="15" fill="#000"/>
<rect x="530" y="157" width="6" height="4" fill="#000"/>
<rect x="530" y="169" width="6" height="4" fill="#000"/>
<rect x="530" y="157" width="4" height="16" fill="#000"/>
<rect x="531" y="161" width="2" height="8" fill="#fff"/>
<rect x="500" y="187" width="6" height="4" fill="#000"/>
<rect x="500" y="199" width="6" height="4" fill="#000"/>
<rect x="500" y="187" width="4" height="16" fill="#000"/>
<rect x="501" y="191" width="2" height="8" fill="#fff"/>
<rect x="470" y="247" width="6" height="4" fill="#000"/>
<rect x="470" y="259" width="6" height="4" fill="#000"/>
<rect x="470" y="247" width="4" height="16" fill="#000"/>
<rect x="471" y="251" width="2" height="8" fill="#fff"/>
<rect x="844" y="187" width="6" height="4" fill="#000"/>
<rect x="844" y="199" width="6" height="4" fill="#000"/>
<rect x="846" y="187" width="4" height="16" fill="#000"/>
<rect x="847" y="191" width="2" height="8" fill="#fff"/>
<rect x="844" y="247" width="6" height="4" fill="#000"/>
<rect x="844" y="259" width="6" height="4" fill="#000"/>
<rect x="846" y="247" width="4" height="16" fill="#000"/>
<rect x="847" y="251" width="2" height="8" fill="#fff"/>
<rect x="784" y="427" width="6" height="4" fill="#000"/>
<rect x="784" y="439" width="6" height="4" fill="#000"/>
<rect x="786" y="427" width="4" height="16" fill="#000"/>
<rect x="787" y="431" width="2" height="8" fill="#fff"/>
<rect x="1130" y="307" width="6" height="4" fill="#000"/>
<rect x="1130" y="319" width="6" height="4" fill="#000"/>
<rect x="1130" y="307" width="4" height="16" fill="#000"/>
<rect x="1131" y="311" width="2" height="8" fill="#fff"/>
<rect x="1174" y="307" width="6" height="4" fill="#000"/>
<rect x="1174" y="319" width="6" height="4" fill="#000"/>
<rect x="1176" y="307" width="4" height="16" fill="#000"/>
<rect x="1177" y="311" width="2" height="8" fill="#fff"/>
<rect x="1700" y="247" width="6" height="4" fill="#000"/>
<rect x="1700" y="259" width="6" height="4" fill="#000"/>
<rect x="1700" y="247" width="4" height="16" fill="#000"/>
<rect x="1701" y="251" width="2" height="8" fill="#6a6a6a"/>
<rect x="513" y="157" width="11" height="2" fill="#5f5f5f"/>
<rect x="483" y="187" width="11" height="2" fill="#5f5f5f"/>
<rect x="453" y="247" width="11" height="2" fill="#5f5f5f"/>
<rect x="856" y="201" width="11" height="2" fill="#5f5f5f"/>
<rect x="856" y="261" width="11" height="2" fill="#5f5f5f"/>
<rect x="796" y="441" width="11" height="2" fill="#5f5f5f"/>
<rect x="1113" y="307" width="11" height="2" fill="#5f5f5f"/>
<rect x="1186" y="322" width="11" height="2" fill="#5f5f5f"/>
<rect x="1683" y="247" width="11" height="2" fill="#5f5f5f"/>
<rect x="1507" y="241" width="1" height="90" fill="#000"/>
<rect x="1523" y="241" width="1" height="90" fill="#000"/>
<rect x="1597" y="241" width="1" height="90" fill="#000"/>
<rect x="1613" y="241" width="1" height="90" fill="#000"/>
<rect x="1501" y="253" width="28" height="4" fill="#000"/>
<rect x="1529" y="253" width="1" height="4" fill="#58a650"/>
<rect x="1502" y="254" width="11" height="2" fill="#5f5f5f"/>
<rect x="1516" y="254" width="11" height="2" fill="#5f5f5f"/>
<rect x="1501" y="283" width="28" height="4" fill="#000"/>
<rect x="1529" y="283" width="1" height="4" fill="#58a650"/>
<rect x="1502" y="284" width="11" height="2" fill="#5f5f5f"/>
<rect x="1516" y="284" width="11" height="2" fill="#5f5f5f"/>
<rect x="1591" y="253" width="28" height="4" fill="#000"/>
<rect x="1619" y="253" width="1" height="4" fill="#58a650"/>
<rect x="1592" y="254" width="11" height="2" fill="#5f5f5f"/>
<rect x="1606" y="254" width="11" height="2" fill="#5f5f5f"/>
<rect x="1591" y="283" width="28" height="4" fill="#000"/>
<rect x="1619" y="283" width="1" height="4" fill="#58a650"/>
<rect x="1592" y="284" width="11" height="2" fill="#5f5f5f"/>
<rect x="1606" y="284" width="11" height="2" fill="#5f5f5f"/>
</g>
<rect x="633.5" y="183.5" width="24" height="24" fill="none" stroke="#000" stroke-width="1"/>
<circle cx="645.5" cy="190" r="3" fill="none" stroke="#000" stroke-width="1"/>
<path d="M636 201.5H655" stroke="#000" stroke-width="1"/>
<polygon points="524.00,174.78 520.78,178.00 516.22,178.00 513.00,174.78 513.00,170.22 516.22,167.00 520.78,167.00 524.00,170.22" fill="#fff"/>
<polygon points="523.30,174.49 520.49,177.30 516.51,177.30 513.70,174.49 513.70,170.51 516.51,167.70 520.49,167.70 523.30,170.51" fill="#000"/>
<circle cx="518.5" cy="172.5" r="3.6" fill="#fff"/>
<circle cx="518.5" cy="172.5" r="2.7" fill="#000"/>
<polygon points="494.00,204.78 490.78,208.00 486.22,208.00 483.00,204.78 483.00,200.22 486.22,197.00 490.78,197.00 494.00,200.22" fill="#fff"/>
<polygon points="493.30,204.49 490.49,207.30 486.51,207.30 483.70,204.49 483.70,200.51 486.51,197.70 490.49,197.70 493.30,200.51" fill="#000"/>
<circle cx="488.5" cy="202.5" r="3.6" fill="#fff"/>
<circle cx="488.5" cy="202.5" r="2.7" fill="#000"/>
<polygon points="464.00,264.78 460.78,268.00 456.22,268.00 453.00,264.78 453.00,260.22 456.22,257.00 460.78,257.00 464.00,260.22" fill="#fff"/>
<polygon points="463.30,264.49 460.49,267.30 456.51,267.30 453.70,264.49 453.70,260.51 456.51,257.70 460.49,257.70 463.30,260.51" fill="#000"/>
<circle cx="458.5" cy="262.5" r="3.6" fill="#fff"/>
<circle cx="458.5" cy="262.5" r="2.7" fill="#000"/>
<polygon points="868.00,190.78 864.78,194.00 860.22,194.00 857.00,190.78 857.00,186.22 860.22,183.00 864.78,183.00 868.00,186.22" fill="#fff"/>
<polygon points="867.30,190.49 864.49,193.30 860.51,193.30 857.70,190.49 857.70,186.51 860.51,183.70 864.49,183.70 867.30,186.51" fill="#000"/>
<circle cx="862.5" cy="188.5" r="3.6" fill="#fff"/>
<circle cx="862.5" cy="188.5" r="2.7" fill="#000"/>
<polygon points="868.00,250.78 864.78,254.00 860.22,254.00 857.00,250.78 857.00,246.22 860.22,243.00 864.78,243.00 868.00,246.22" fill="#fff"/>
<polygon points="867.30,250.49 864.49,253.30 860.51,253.30 857.70,250.49 857.70,246.51 860.51,243.70 864.49,243.70 867.30,246.51" fill="#000"/>
<circle cx="862.5" cy="248.5" r="3.6" fill="#fff"/>
<circle cx="862.5" cy="248.5" r="2.7" fill="#000"/>
<polygon points="808.00,430.78 804.78,434.00 800.22,434.00 797.00,430.78 797.00,426.22 800.22,423.00 804.78,423.00 808.00,426.22" fill="#fff"/>
<polygon points="807.30,430.49 804.49,433.30 800.51,433.30 797.70,430.49 797.70,426.51 800.51,423.70 804.49,423.70 807.30,426.51" fill="#000"/>
<circle cx="802.5" cy="428.5" r="3.6" fill="#fff"/>
<circle cx="802.5" cy="428.5" r="2.7" fill="#000"/>
<polygon points="1124.00,324.78 1120.78,328.00 1116.22,328.00 1113.00,324.78 1113.00,320.22 1116.22,317.00 1120.78,317.00 1124.00,320.22" fill="#fff"/>
<polygon points="1123.30,324.49 1120.49,327.30 1116.51,327.30 1113.70,324.49 1113.70,320.51 1116.51,317.70 1120.49,317.70 1123.30,320.51" fill="#000"/>
<circle cx="1118.5" cy="322.5" r="3.6" fill="#fff"/>
<circle cx="1118.5" cy="322.5" r="2.7" fill="#000"/>
<polygon points="1198.00,310.78 1194.78,314.00 1190.22,314.00 1187.00,310.78 1187.00,306.22 1190.22,303.00 1194.78,303.00 1198.00,306.22" fill="#fff"/>
<polygon points="1197.30,310.49 1194.49,313.30 1190.51,313.30 1187.70,310.49 1187.70,306.51 1190.51,303.70 1194.49,303.70 1197.30,306.51" fill="#000"/>
<circle cx="1192.5" cy="308.5" r="3.6" fill="#fff"/>
<circle cx="1192.5" cy="308.5" r="2.7" fill="#000"/>
<polygon points="1694.00,264.78 1690.78,268.00 1686.22,268.00 1683.00,264.78 1683.00,260.22 1686.22,257.00 1690.78,257.00 1694.00,260.22" fill="#fff"/>
<polygon points="1693.30,264.49 1690.49,267.30 1686.51,267.30 1683.70,264.49 1683.70,260.51 1686.51,257.70 1690.49,257.70 1693.30,260.51" fill="#000"/>
<circle cx="1688.5" cy="262.5" r="3.6" fill="#fff"/>
<circle cx="1688.5" cy="262.5" r="2.7" fill="#000"/>
<path d="M481 213H490.5L493 215H505V218H493L490.5 220H481Z" fill="#000"/>
<path d="M483 216.5L484.8 215H487.3V218H484.8Z" fill="#5a0000"/>
<path d="M488 216.5L489.8 215H492.3V218H489.8Z" fill="#003c00"/>
<path d="M496 216.5L497.8 215H500.3V218H497.8Z" fill="#6a6a6a"/>
<polygon points="500.60,227.61 497.61,230.60 493.39,230.60 490.40,227.61 490.40,223.39 493.39,220.40 497.61,220.40 500.60,223.39" fill="#000"/>
<circle cx="495.5" cy="225.5" r="4.45" fill="#b0ffb0"/>
<circle cx="495.5" cy="225.5" r="3.25" fill="#000"/>
<circle cx="495.5" cy="225.5" r="2.55" fill="#ff0000"/>
<text x="489.3" y="239.5" font-family='"Liberation Sans", sans-serif' font-size="10" fill="#061206" stroke="#061206" stroke-width="0.1" text-rendering="geometricPrecision" textLength="11.7" lengthAdjust="spacingAndGlyphs">K1</text>
<path d="M513 218.5L514.8 217H517.3V220H514.8Z" fill="#5a5a5a"/>
<path d="M421 273H430.5L433 275H445V278H433L430.5 280H421Z" fill="#000"/>
<path d="M423 276.5L424.8 275H427.3V278H424.8Z" fill="#5a0000"/>
<path d="M428 276.5L429.8 275H432.3V278H429.8Z" fill="#003c00"/>
<path d="M436 276.5L437.8 275H440.3V278H437.8Z" fill="#6a6a6a"/>
<polygon points="440.60,287.61 437.61,290.60 433.39,290.60 430.40,287.61 430.40,283.39 433.39,280.40 437.61,280.40 440.60,283.39" fill="#000"/>
<circle cx="435.5" cy="285.5" r="4.45" fill="#b0ffb0"/>
<circle cx="435.5" cy="285.5" r="3.25" fill="#000"/>
<circle cx="435.5" cy="285.5" r="2.55" fill="#ff0000"/>
<text x="429.3" y="299.5" font-family='"Liberation Sans", sans-serif' font-size="10" fill="#061206" stroke="#061206" stroke-width="0.1" text-rendering="geometricPrecision" textLength="11.7" lengthAdjust="spacingAndGlyphs">K2</text>
<path d="M453 278.5L454.8 277H457.3V280H454.8Z" fill="#5a5a5a"/>
<path d="M391 303H400.5L403 305H415V308H403L400.5 310H391Z" fill="#000"/>
<path d="M393 306.5L394.8 305H397.3V308H394.8Z" fill="#5a0000"/>
<path d="M398 306.5L399.8 305H402.3V308H399.8Z" fill="#003c00"/>
<path d="M406 306.5L407.8 305H410.3V308H407.8Z" fill="#6a6a6a"/>
<polygon points="410.60,317.61 407.61,320.60 403.39,320.60 400.40,317.61 400.40,313.39 403.39,310.40 407.61,310.40 410.60,313.39" fill="#000"/>
<circle cx="405.5" cy="315.5" r="4.45" fill="#b0ffb0"/>
<circle cx="405.5" cy="315.5" r="3.25" fill="#000"/>
<circle cx="405.5" cy="315.5" r="2.55" fill="#ff0000"/>
<text x="399.3" y="329.5" font-family='"Liberation Sans", sans-serif' font-size="10" fill="#061206" stroke="#061206" stroke-width="0.1" text-rendering="geometricPrecision" textLength="11.7" lengthAdjust="spacingAndGlyphs">K3</text>
<path d="M423 308.5L424.8 307H427.3V310H424.8Z" fill="#5a5a5a"/>
<path d="M421 333H430.5L433 335H445V338H433L430.5 340H421Z" fill="#000"/>
<path d="M423 336.5L424.8 335H427.3V338H424.8Z" fill="#5a0000"/>
<path d="M428 336.5L429.8 335H432.3V338H429.8Z" fill="#003c00"/>
<path d="M436 336.5L437.8 335H440.3V338H437.8Z" fill="#6a6a6a"/>
<polygon points="440.60,347.61 437.61,350.60 433.39,350.60 430.40,347.61 430.40,343.39 433.39,340.40 437.61,340.40 440.60,343.39" fill="#000"/>
<circle cx="435.5" cy="345.5" r="4.45" fill="#b0ffb0"/>
<circle cx="435.5" cy="345.5" r="3.25" fill="#000"/>
<circle cx="435.5" cy="345.5" r="2.55" fill="#ff0000"/>
<text x="429.3" y="359.5" font-family='"Liberation Sans", sans-serif' font-size="10" fill="#061206" stroke="#061206" stroke-width="0.1" text-rendering="geometricPrecision" textLength="11.7" lengthAdjust="spacingAndGlyphs">K4</text>
<path d="M453 338.5L454.8 337H457.3V340H454.8Z" fill="#5a5a5a"/>
<path d="M421 363H430.5L433 365H445V368H433L430.5 370H421Z" fill="#000"/>
<path d="M423 366.5L424.8 365H427.3V368H424.8Z" fill="#5a0000"/>
<path d="M428 366.5L429.8 365H432.3V368H429.8Z" fill="#003c00"/>
<path d="M436 366.5L437.8 365H440.3V368H437.8Z" fill="#6a6a6a"/>
<polygon points="440.60,377.61 437.61,380.60 433.39,380.60 430.40,377.61 430.40,373.39 433.39,370.40 437.61,370.40 440.60,373.39" fill="#000"/>
<circle cx="435.5" cy="375.5" r="4.45" fill="#b0ffb0"/>
<circle cx="435.5" cy="375.5" r="3.25" fill="#000"/>
<circle cx="435.5" cy="375.5" r="2.55" fill="#ff0000"/>
<text x="429.3" y="389.5" font-family='"Liberation Sans", sans-serif' font-size="10" fill="#061206" stroke="#061206" stroke-width="0.1" text-rendering="geometricPrecision" textLength="11.7" lengthAdjust="spacingAndGlyphs">K5</text>
<path d="M453 368.5L454.8 367H457.3V370H454.8Z" fill="#5a5a5a"/>
<path d="M840 231H830.5L828 233H815V236H828L830.5 238H840Z" fill="#000"/>
<path d="M834 234.5L835.8 233H838.3V236H835.8Z" fill="#5a0000"/>
<path d="M829 234.5L830.8 233H833.3V236H830.8Z" fill="#003c00"/>
<path d="M821 234.5L822.8 233H825.3V236H822.8Z" fill="#6a6a6a"/>
<polygon points="830.60,227.61 827.61,230.60 823.39,230.60 820.40,227.61 820.40,223.39 823.39,220.40 827.61,220.40 830.60,223.39" fill="#000"/>
<circle cx="825.5" cy="225.5" r="4.45" fill="#b0ffb0"/>
<circle cx="825.5" cy="225.5" r="3.25" fill="#000"/>
<circle cx="825.5" cy="225.5" r="2.55" fill="#ff0000"/>
<text x="818.9" y="220.2" font-family='"Liberation Sans", sans-serif' font-size="10" fill="#061206" stroke="#061206" stroke-width="0.1" text-rendering="geometricPrecision" textLength="12" lengthAdjust="spacingAndGlyphs">V1</text>
<path d="M803 232.5L804.8 231H807.3V234H804.8Z" fill="#5a5a5a"/>
<path d="M960 291H950.5L948 293H935V296H948L950.5 298H960Z" fill="#000"/>
<path d="M954 294.5L955.8 293H958.3V296H955.8Z" fill="#5a0000"/>
<path d="M949 294.5L950.8 293H953.3V296H950.8Z" fill="#003c00"/>
<path d="M941 294.5L942.8 293H945.3V296H942.8Z" fill="#6a6a6a"/>
<polygon points="950.60,287.61 947.61,290.60 943.39,290.60 940.40,287.61 940.40,283.39 943.39,280.40 947.61,280.40 950.60,283.39" fill="#000"/>
<circle cx="945.5" cy="285.5" r="4.45" fill="#b0ffb0"/>
<circle cx="945.5" cy="285.5" r="3.25" fill="#000"/>
<circle cx="945.5" cy="285.5" r="2.55" fill="#ff0000"/>
<text x="938.9" y="280.2" font-family='"Liberation Sans", sans-serif' font-size="10" fill="#061206" stroke="#061206" stroke-width="0.1" text-rendering="geometricPrecision" textLength="12" lengthAdjust="spacingAndGlyphs">V2</text>
<path d="M923 292.5L924.8 291H927.3V294H924.8Z" fill="#5a5a5a"/>
<path d="M810 321H800.5L798 323H785V326H798L800.5 328H810Z" fill="#000"/>
<path d="M804 324.5L805.8 323H808.3V326H805.8Z" fill="#5a0000"/>
<path d="M799 324.5L800.8 323H803.3V326H800.8Z" fill="#003c00"/>
<path d="M791 324.5L792.8 323H795.3V326H792.8Z" fill="#6a6a6a"/>
<polygon points="800.60,317.61 797.61,320.60 793.39,320.60 790.40,317.61 790.40,313.39 793.39,310.40 797.61,310.40 800.60,313.39" fill="#000"/>
<circle cx="795.5" cy="315.5" r="4.45" fill="#b0ffb0"/>
<circle cx="795.5" cy="315.5" r="3.25" fill="#000"/>
<circle cx="795.5" cy="315.5" r="2.55" fill="#ff0000"/>
<text x="788.9" y="310.2" font-family='"Liberation Sans", sans-serif' font-size="10" fill="#061206" stroke="#061206" stroke-width="0.1" text-rendering="geometricPrecision" textLength="12" lengthAdjust="spacingAndGlyphs">V3</text>
<path d="M773 322.5L774.8 321H777.3V324H774.8Z" fill="#5a5a5a"/>
<path d="M810 351H800.5L798 353H785V356H798L800.5 358H810Z" fill="#000"/>
<path d="M804 354.5L805.8 353H808.3V356H805.8Z" fill="#5a0000"/>
<path d="M799 354.5L800.8 353H803.3V356H800.8Z" fill="#003c00"/>
<path d="M791 354.5L792.8 353H795.3V356H792.8Z" fill="#6a6a6a"/>
<polygon points="800.60,347.61 797.61,350.60 793.39,350.60 790.40,347.61 790.40,343.39 793.39,340.40 797.61,340.40 800.60,343.39" fill="#000"/>
<circle cx="795.5" cy="345.5" r="4.45" fill="#b0ffb0"/>
<circle cx="795.5" cy="345.5" r="3.25" fill="#000"/>
<circle cx="795.5" cy="345.5" r="2.55" fill="#ff0000"/>
<text x="788.9" y="340.2" font-family='"Liberation Sans", sans-serif' font-size="10" fill="#061206" stroke="#061206" stroke-width="0.1" text-rendering="geometricPrecision" textLength="12" lengthAdjust="spacingAndGlyphs">V4</text>
<path d="M773 352.5L774.8 351H777.3V354H774.8Z" fill="#5a5a5a"/>
<path d="M810 381H800.5L798 383H785V386H798L800.5 388H810Z" fill="#000"/>
<path d="M804 384.5L805.8 383H808.3V386H805.8Z" fill="#5a0000"/>
<path d="M799 384.5L800.8 383H803.3V386H800.8Z" fill="#003c00"/>
<path d="M791 384.5L792.8 383H795.3V386H792.8Z" fill="#6a6a6a"/>
<polygon points="800.60,377.61 797.61,380.60 793.39,380.60 790.40,377.61 790.40,373.39 793.39,370.40 797.61,370.40 800.60,373.39" fill="#000"/>
<circle cx="795.5" cy="375.5" r="4.45" fill="#b0ffb0"/>
<circle cx="795.5" cy="375.5" r="3.25" fill="#000"/>
<circle cx="795.5" cy="375.5" r="2.55" fill="#ff0000"/>
<text x="788.9" y="370.2" font-family='"Liberation Sans", sans-serif' font-size="10" fill="#061206" stroke="#061206" stroke-width="0.1" text-rendering="geometricPrecision" textLength="12" lengthAdjust="spacingAndGlyphs">V5</text>
<path d="M773 382.5L774.8 381H777.3V384H774.8Z" fill="#5a5a5a"/>
<path d="M120 291H110.5L108 293H95V296H108L110.5 298H120Z" fill="#000"/>
<path d="M114 294.5L115.8 293H118.3V296H115.8Z" fill="#ff6060"/>
<path d="M109 294.5L110.8 293H113.3V296H110.8Z" fill="#003c00"/>
<path d="M101 294.5L102.8 293H105.3V296H102.8Z" fill="#6a6a6a"/>
<polygon points="110.60,287.61 107.61,290.60 103.39,290.60 100.40,287.61 100.40,283.39 103.39,280.40 107.61,280.40 110.60,283.39" fill="#000"/>
<circle cx="105.5" cy="285.5" r="4.45" fill="#b0ffb0"/>
<circle cx="105.5" cy="285.5" r="3.25" fill="#000"/>
<circle cx="105.5" cy="285.5" r="2.55" fill="#ff0000"/>
<text x="102" y="280" font-family='"Liberation Sans", sans-serif' font-size="10" fill="#061206" stroke="#061206" stroke-width="0.1" text-rendering="geometricPrecision">A</text>
<path d="M83 292.5L84.8 291H87.3V294H84.8Z" fill="#5a5a5a"/>
<path d="M121.5 292.5H126M130 290.5L125.5 292.5L130 294.5" stroke="#000" stroke-width="1" fill="none"/>
<path d="M1681 273H1690.5L1693 275H1705V278H1693L1690.5 280H1681Z" fill="#000"/>
<path d="M1683 276.5L1684.8 275H1687.3V278H1684.8Z" fill="#ff6060"/>
<path d="M1688 276.5L1689.8 275H1692.3V278H1689.8Z" fill="#003c00"/>
<path d="M1696 276.5L1697.8 275H1700.3V278H1697.8Z" fill="#6a6a6a"/>
<polygon points="1700.60,287.61 1697.61,290.60 1693.39,290.60 1690.40,287.61 1690.40,283.39 1693.39,280.40 1697.61,280.40 1700.60,283.39" fill="#000"/>
<circle cx="1695.5" cy="285.5" r="4.45" fill="#b0ffb0"/>
<circle cx="1695.5" cy="285.5" r="3.25" fill="#000"/>
<circle cx="1695.5" cy="285.5" r="2.55" fill="#ff0000"/>
<text x="1692.5" y="299.7" font-family='"Liberation Sans", sans-serif' font-size="10" fill="#061206" stroke="#061206" stroke-width="0.1" text-rendering="geometricPrecision">B</text>
<path d="M1713 278.5L1714.8 277H1717.3V280H1714.8Z" fill="#5a5a5a"/>
<path d="M1679.5 278.5H1675M1671 276.5L1675.5 278.5L1671 280.5" stroke="#000" stroke-width="1" fill="none"/>
<polygon points="170.50,287.57 167.57,290.50 163.43,290.50 160.50,287.57 160.50,283.43 163.43,280.50 167.57,280.50 170.50,283.43" fill="#000"/>
<circle cx="165.5" cy="285.5" r="4.4" fill="#00ff00"/>
<circle cx="165.5" cy="285.5" r="3.45" fill="#001800"/>
<circle cx="165.5" cy="285.5" r="2.45" fill="#00ff00"/>
<text x="162.5" y="280" font-family='"Liberation Sans", sans-serif' font-size="10" fill="#061206" stroke="#061206" stroke-width="0.1" text-rendering="geometricPrecision">a</text>
<polygon points="1640.50,287.57 1637.57,290.50 1633.43,290.50 1630.50,287.57 1630.50,283.43 1633.43,280.50 1637.57,280.50 1640.50,283.43" fill="#000"/>
<circle cx="1635.5" cy="285.5" r="4.4" fill="#00ff00"/>
<circle cx="1635.5" cy="285.5" r="3.45" fill="#001800"/>
<circle cx="1635.5" cy="285.5" r="2.45" fill="#00ff00"/>
<text x="1633.5" y="280.2" font-family='"Liberation Sans", sans-serif' font-size="10" fill="#061206" stroke="#061206" stroke-width="0.1" text-rendering="geometricPrecision">b</text>
<path d="M1051 303H1060.5L1063 305H1075V308H1063L1060.5 310H1051Z" fill="#000"/>
<path d="M1053 306.5L1054.8 305H1057.3V308H1054.8Z" fill="#4040ff"/>
<path d="M1058 306.5L1059.8 305H1062.3V308H1059.8Z" fill="#6a6a6a"/>
<polygon points="1070.50,317.57 1067.57,320.50 1063.43,320.50 1060.50,317.57 1060.50,313.43 1063.43,310.50 1067.57,310.50 1070.50,313.43" fill="#300"/>
<polygon points="1070.00,317.36 1067.36,320.00 1063.64,320.00 1061.00,317.36 1061.00,313.64 1063.64,311.00 1067.36,311.00 1070.00,313.64" fill="#ff0000"/>
<circle cx="1065.5" cy="315.5" r="3.3" fill="#000"/>
<circle cx="1065.5" cy="315.5" r="2.75" fill="#0000ff"/>
<text x="1059.7" y="329.5" font-family='"Liberation Sans", sans-serif' font-size="10" fill="#061206" stroke="#061206" stroke-width="0.1" text-rendering="geometricPrecision" textLength="12.8" lengthAdjust="spacingAndGlyphs">T5</text>
<path d="M780 441H770.5L768 443H755V446H768L770.5 448H780Z" fill="#000"/>
<path d="M773 444.5L774.8 443H777.3V446H774.8Z" fill="#4040ff"/>
<path d="M768 444.5L769.8 443H772.3V446H769.8Z" fill="#6a6a6a"/>
<polygon points="770.50,437.57 767.57,440.50 763.43,440.50 760.50,437.57 760.50,433.43 763.43,430.50 767.57,430.50 770.50,433.43" fill="#300"/>
<polygon points="770.00,437.36 767.36,440.00 763.64,440.00 761.00,437.36 761.00,433.64 763.64,431.00 767.36,431.00 770.00,433.64" fill="#ff0000"/>
<circle cx="765.5" cy="435.5" r="3.3" fill="#000"/>
<circle cx="765.5" cy="435.5" r="2.75" fill="#0000ff"/>
<text x="759" y="430" font-family='"Liberation Sans", sans-serif' font-size="10" fill="#061206" stroke="#061206" stroke-width="0.1" text-rendering="geometricPrecision" textLength="13.5" lengthAdjust="spacingAndGlyphs">T7</text>
<path d="M1590 261H1580.5L1578 263H1565V266H1578L1580.5 268H1590Z" fill="#000"/>
<path d="M1583 264.5L1584.8 263H1587.3V266H1584.8Z" fill="#4040ff"/>
<path d="M1578 264.5L1579.8 263H1582.3V266H1579.8Z" fill="#6a6a6a"/>
<polygon points="1580.50,257.57 1577.57,260.50 1573.43,260.50 1570.50,257.57 1570.50,253.43 1573.43,250.50 1577.57,250.50 1580.50,253.43" fill="#300"/>
<polygon points="1580.00,257.36 1577.36,260.00 1573.64,260.00 1571.00,257.36 1571.00,253.64 1573.64,251.00 1577.36,251.00 1580.00,253.64" fill="#ff0000"/>
<circle cx="1575.5" cy="255.5" r="3.3" fill="#000"/>
<circle cx="1575.5" cy="255.5" r="2.75" fill="#0000ff"/>
<text x="1569" y="250.4" font-family='"Liberation Sans", sans-serif' font-size="10" fill="#061206" stroke="#061206" stroke-width="0.1" text-rendering="geometricPrecision" textLength="13.5" lengthAdjust="spacingAndGlyphs">T3</text>
<path d="M1621 243H1630.5L1633 245H1645V248H1633L1630.5 250H1621Z" fill="#000"/>
<path d="M1623 246.5L1624.8 245H1627.3V248H1624.8Z" fill="#4040ff"/>
<path d="M1628 246.5L1629.8 245H1632.3V248H1629.8Z" fill="#6a6a6a"/>
<polygon points="1640.50,257.57 1637.57,260.50 1633.43,260.50 1630.50,257.57 1630.50,253.43 1633.43,250.50 1637.57,250.50 1640.50,253.43" fill="#300"/>
<polygon points="1640.00,257.36 1637.36,260.00 1633.64,260.00 1631.00,257.36 1631.00,253.64 1633.64,251.00 1637.36,251.00 1640.00,253.64" fill="#ff0000"/>
<circle cx="1635.5" cy="255.5" r="3.3" fill="#000"/>
<circle cx="1635.5" cy="255.5" r="2.75" fill="#0000ff"/>
<text x="1629.8" y="269.6" font-family='"Liberation Sans", sans-serif' font-size="10" fill="#061206" stroke="#061206" stroke-width="0.1" text-rendering="geometricPrecision" textLength="12" lengthAdjust="spacingAndGlyphs">T1</text>
<text x="182.4" y="282" font-family='"Liberation Mono", monospace' font-size="12.3" letter-spacing="0.62" text-rendering="geometricPrecision" fill="#fff">2</text>
<text x="182.4" y="325.5" font-family='"Liberation Mono", monospace' font-size="12.3" letter-spacing="0.62" text-rendering="geometricPrecision" fill="#fff">4</text>
<text x="242.4" y="312" font-family='"Liberation Mono", monospace' font-size="12.3" letter-spacing="0.62" text-rendering="geometricPrecision" fill="#fff">6</text>
<text x="302.4" y="295.5" font-family='"Liberation Mono", monospace' font-size="12.3" letter-spacing="0.62" text-rendering="geometricPrecision" fill="#fff">14</text>
<text x="312.4" y="312" font-family='"Liberation Mono", monospace' font-size="12.3" letter-spacing="0.62" text-rendering="geometricPrecision" fill="#fff">10</text>
<text x="272.4" y="342" font-family='"Liberation Mono", monospace' font-size="12.3" letter-spacing="0.62" text-rendering="geometricPrecision" fill="#fff">8</text>
<text x="332.4" y="342" font-family='"Liberation Mono", monospace' font-size="12.3" letter-spacing="0.62" text-rendering="geometricPrecision" fill="#fff">12</text>
<text x="371.4" y="282" font-family='"Liberation Mono", monospace' font-size="12.3" letter-spacing="0.62" text-rendering="geometricPrecision" fill="#fff">16</text>
<text x="401.4" y="252" font-family='"Liberation Mono", monospace' font-size="12.3" letter-spacing="0.62" text-rendering="geometricPrecision" fill="#fff">18</text>
<text x="431.4" y="222" font-family='"Liberation Mono", monospace' font-size="12.3" letter-spacing="0.62" text-rendering="geometricPrecision" fill="#fff">20</text>
<text x="461.4" y="192" font-family='"Liberation Mono", monospace' font-size="12.3" letter-spacing="0.62" text-rendering="geometricPrecision" fill="#fff">22</text>
<text x="602.4" y="236" font-family='"Liberation Mono", monospace' font-size="12.3" letter-spacing="0.62" text-rendering="geometricPrecision" fill="#fff">24</text>
<text x="702.4" y="222" font-family='"Liberation Mono", monospace' font-size="12.3" letter-spacing="0.62" text-rendering="geometricPrecision" fill="#fff">19</text>
<text x="902.4" y="236" font-family='"Liberation Mono", monospace' font-size="12.3" letter-spacing="0.62" text-rendering="geometricPrecision" fill="#fff">11</text>
<text x="932.4" y="266" font-family='"Liberation Mono", monospace' font-size="12.3" letter-spacing="0.62" text-rendering="geometricPrecision" fill="#fff">7</text>
<text x="992.4" y="296" font-family='"Liberation Mono", monospace' font-size="12.3" letter-spacing="0.62" text-rendering="geometricPrecision" fill="#fff">9</text>
<text x="992.4" y="312" font-family='"Liberation Mono", monospace' font-size="12.3" letter-spacing="0.62" text-rendering="geometricPrecision" fill="#fff">3/1</text>
<text x="932.4" y="326" font-family='"Liberation Mono", monospace' font-size="12.3" letter-spacing="0.62" text-rendering="geometricPrecision" fill="#fff">13</text>
<text x="872.4" y="326" font-family='"Liberation Mono", monospace' font-size="12.3" letter-spacing="0.62" text-rendering="geometricPrecision" fill="#fff">15</text>
<text x="842.4" y="356" font-family='"Liberation Mono", monospace' font-size="12.3" letter-spacing="0.62" text-rendering="geometricPrecision" fill="#fff">17</text>
<text x="842.4" y="416" font-family='"Liberation Mono", monospace' font-size="12.3" letter-spacing="0.62" text-rendering="geometricPrecision" fill="#fff">21</text>
<text x="1082.4" y="236" font-family='"Liberation Mono", monospace' font-size="12.3" letter-spacing="0.62" text-rendering="geometricPrecision" fill="#fff">1/1</text>
<text x="1099.4" y="252" font-family='"Liberation Mono", monospace' font-size="12.3" letter-spacing="0.62" text-rendering="geometricPrecision" fill="#fff">5</text>
<text x="1142.4" y="252" font-family='"Liberation Mono", monospace' font-size="12.3" letter-spacing="0.62" text-rendering="geometricPrecision" fill="#fff">3</text>
<text x="1142.4" y="296" font-family='"Liberation Mono", monospace' font-size="12.3" letter-spacing="0.62" text-rendering="geometricPrecision" fill="#fff">1</text>
<text x="1232.4" y="222" font-family='"Liberation Mono", monospace' font-size="12.3" letter-spacing="0.62" text-rendering="geometricPrecision" fill="#fff">1 a</text>
<text x="1292.4" y="222" font-family='"Liberation Mono", monospace' font-size="12.3" letter-spacing="0.62" text-rendering="geometricPrecision" fill="#fff">1/2</text>
<text x="1412.4" y="236" font-family='"Liberation Mono", monospace' font-size="12.3" letter-spacing="0.62" text-rendering="geometricPrecision" fill="#fff">1/4</text>
<text x="1292.4" y="266" font-family='"Liberation Mono", monospace' font-size="12.3" letter-spacing="0.62" text-rendering="geometricPrecision" fill="#fff">1/3</text>
<text x="1442.4" y="266" font-family='"Liberation Mono", monospace' font-size="12.3" letter-spacing="0.62" text-rendering="geometricPrecision" fill="#fff">1/5</text>
<rect x="1" y="211" width="89" height="29" fill="#58a650" shape-rendering="crispEdges"/>
<text x="5.2" y="230.5" font-family='"Liberation Sans", sans-serif' font-size="16.5" fill="#fff" textLength="78" lengthAdjust="spacingAndGlyphs">Nyársapát</text>
<rect x="1171" y="331" width="119" height="29" fill="#58a650" shape-rendering="crispEdges"/>
<text x="1182" y="353" font-family='"Liberation Sans", sans-serif' font-size="19" fill="#fff" textLength="98" lengthAdjust="spacingAndGlyphs">Pakura scp</text>
<rect x="1711" y="211" width="89" height="29" fill="#58a650" shape-rendering="crispEdges"/>
<text x="1713" y="230.5" font-family='"Liberation Sans", sans-serif' font-size="12" fill="#fff" textLength="85" lengthAdjust="spacingAndGlyphs">Pintér team scp</text>
<rect x="1711" y="331" width="89" height="29" fill="#58a650" shape-rendering="crispEdges"/>
<text x="1713.6" y="351.5" font-family='"Liberation Sans", sans-serif' font-size="16" fill="#fff" textLength="79" lengthAdjust="spacingAndGlyphs">Katonatelep</text>
<text x="1502.6" y="380" font-family='"Liberation Sans", sans-serif' font-size="12.5" fill="#fff" textLength="26" lengthAdjust="spacingAndGlyphs">SR3</text>
<text x="1592.6" y="380" font-family='"Liberation Sans", sans-serif' font-size="12.5" fill="#fff" textLength="25" lengthAdjust="spacingAndGlyphs">SR1</text>
<rect x="1514" y="333" width="3" height="8" fill="#fff" shape-rendering="crispEdges"/>
<path d="M1518.2 333H1527.2L1523 345H1522Z" fill="#000"/>
<path d="M1520 335.5L1521.8 334H1524.3V337H1521.8Z" fill="#a8e8a8"/>
<rect x="1503" y="344" width="8" height="3" fill="#5f5f5f" shape-rendering="crispEdges"/>
<rect x="1514" y="344" width="3" height="2.5" fill="#000064"/>
<polygon points="1521.10,354.82 1517.82,358.10 1513.18,358.10 1509.90,354.82 1509.90,350.18 1513.18,346.90 1517.82,346.90 1521.10,350.18" fill="#fff"/>
<polygon points="1520.50,354.57 1517.57,357.50 1513.43,357.50 1510.50,354.57 1510.50,350.43 1513.43,347.50 1517.57,347.50 1520.50,350.43" fill="#000"/>
<circle cx="1515.5" cy="352.5" r="2.7" fill="#ffff00"/>
<rect x="1604" y="333" width="3" height="8" fill="#fff" shape-rendering="crispEdges"/>
<path d="M1608.2 333H1617.2L1613 345H1612Z" fill="#000"/>
<path d="M1610 335.5L1611.8 334H1614.3V337H1611.8Z" fill="#a8e8a8"/>
<rect x="1593" y="344" width="8" height="3" fill="#5f5f5f" shape-rendering="crispEdges"/>
<rect x="1604" y="344" width="3" height="2.5" fill="#000064"/>
<polygon points="1611.10,354.82 1607.82,358.10 1603.18,358.10 1599.90,354.82 1599.90,350.18 1603.18,346.90 1607.82,346.90 1611.10,350.18" fill="#fff"/>
<polygon points="1610.50,354.57 1607.57,357.50 1603.43,357.50 1600.50,354.57 1600.50,350.43 1603.43,347.50 1607.57,347.50 1610.50,350.43" fill="#000"/>
<circle cx="1605.5" cy="352.5" r="2.7" fill="#ffff00"/>
<rect x="61" y="70" width="29" height="11" fill="#000"/>
<text x="62.2" y="78.2" font-family='"Liberation Sans", sans-serif' font-size="8.6" fill="#fff" textLength="25.3" lengthAdjust="spacingAndGlyphs">00000</text>
<rect x="91" y="70" width="29" height="11" fill="#000"/>
<text x="92.2" y="78.2" font-family='"Liberation Sans", sans-serif' font-size="8.6" fill="#fff" textLength="25.3" lengthAdjust="spacingAndGlyphs">00000</text>
<rect x="121" y="70" width="29" height="11" fill="#000"/>
<text x="122.2" y="78.2" font-family='"Liberation Sans", sans-serif' font-size="8.6" fill="#fff" textLength="25.3" lengthAdjust="spacingAndGlyphs">00000</text>
<rect x="151" y="70" width="29" height="11" fill="#000"/>
<text x="152.2" y="78.2" font-family='"Liberation Sans", sans-serif' font-size="8.6" fill="#fff" textLength="25.3" lengthAdjust="spacingAndGlyphs">00000</text>
<rect x="211" y="70" width="29" height="11" fill="#000"/>
<text x="212.2" y="78.2" font-family='"Liberation Sans", sans-serif' font-size="8.6" fill="#fff" textLength="25.3" lengthAdjust="spacingAndGlyphs">00000</text>
<rect x="1" y="280" width="29" height="11" fill="#000"/>
<text x="2.2" y="288.2" font-family='"Liberation Sans", sans-serif' font-size="8.6" fill="#fff" textLength="25.3" lengthAdjust="spacingAndGlyphs">00000</text>
<rect x="1771" y="280" width="29" height="11" fill="#000"/>
<text x="1772.2" y="288.2" font-family='"Liberation Sans", sans-serif' font-size="8.6" fill="#fff" textLength="25.3" lengthAdjust="spacingAndGlyphs">00000</text>
<rect x="31" y="430" width="29" height="11" fill="#000"/>
<text x="32.2" y="438.2" font-family='"Liberation Sans", sans-serif' font-size="8.6" fill="#fff" textLength="25.3" lengthAdjust="spacingAndGlyphs">00000</text>
<rect x="61" y="430" width="29" height="11" fill="#000"/>
<text x="62.2" y="438.2" font-family='"Liberation Sans", sans-serif' font-size="8.6" fill="#fff" textLength="25.3" lengthAdjust="spacingAndGlyphs">00000</text>
<rect x="1681" y="460" width="29" height="11" fill="#000"/>
<text x="1682.2" y="468.2" font-family='"Liberation Sans", sans-serif' font-size="8.6" fill="#fff" textLength="25.3" lengthAdjust="spacingAndGlyphs">00000</text>
<rect x="1711" y="460" width="29" height="11" fill="#000"/>
<text x="1712.2" y="468.2" font-family='"Liberation Sans", sans-serif' font-size="8.6" fill="#fff" textLength="25.3" lengthAdjust="spacingAndGlyphs">00000</text>
<path d="M186 6.5L187.8 5H190.3V8H187.8Z" fill="#fff"/>
<path d="M200 6.5L201.8 5H204.3V8H201.8Z" fill="#5a5a5a"/>
<path d="M216 6.5L217.8 5H220.3V8H217.8Z" fill="#fff"/>
<path d="M230 6.5L231.8 5H234.3V8H231.8Z" fill="#5a5a5a"/>
<text x="181" y="21" font-family='"Liberation Sans", sans-serif' font-size="14" fill="#000" textLength="8.5" lengthAdjust="spacingAndGlyphs">H</text>
<text x="201" y="21" font-family='"Liberation Sans", sans-serif' font-size="14" fill="#000" textLength="12.5" lengthAdjust="spacingAndGlyphs">DI</text>
<text x="231" y="21" font-family='"Liberation Sans", sans-serif' font-size="14" fill="#000" textLength="5.5" lengthAdjust="spacingAndGlyphs">II</text>
<text x="211" y="28.7" font-family='"Liberation Sans", sans-serif' font-size="13.5" fill="#000" textLength="29" lengthAdjust="spacingAndGlyphs">Akkü</text>
<path d="M1746 66.5L1747.8 65H1750.3V68H1747.8Z" fill="#fff"/>
<path d="M1760 66.5L1761.8 65H1764.3V68H1761.8Z" fill="#5a5a5a"/>
<path d="M1776 66.5L1777.8 65H1780.3V68H1777.8Z" fill="#fff"/>
<path d="M1790 66.5L1791.8 65H1794.3V68H1791.8Z" fill="#5a5a5a"/>
<text x="1741" y="81" font-family='"Liberation Sans", sans-serif' font-size="14" fill="#000" textLength="8.5" lengthAdjust="spacingAndGlyphs">H</text>
<text x="1761" y="81" font-family='"Liberation Sans", sans-serif' font-size="14" fill="#000" textLength="12.5" lengthAdjust="spacingAndGlyphs">DI</text>
<text x="1791" y="81" font-family='"Liberation Sans", sans-serif' font-size="14" fill="#000" textLength="5.5" lengthAdjust="spacingAndGlyphs">II</text>
<text x="1771" y="88.7" font-family='"Liberation Sans", sans-serif' font-size="13.5" fill="#000" textLength="29" lengthAdjust="spacingAndGlyphs">Akkü</text>
<rect x="65.0" y="105.0" width="4.5" height="1" fill="#e6e6e6"/>
<path d="M80.5 102.5L83.5 104.1H87.0V106.9H83.5L80.5 108.5Z" fill="#d6d6d6"/>
<polygon points="82.25,108.30 78.30,112.25 72.70,112.25 68.75,108.30 68.75,102.70 72.70,98.75 78.30,98.75 82.25,102.70" fill="#dcdcdc"/>
<polygon points="81.30,107.90 77.90,111.30 73.10,111.30 69.70,107.90 69.70,103.10 73.10,99.70 77.90,99.70 81.30,103.10" fill="#000"/>
<polygon points="80.05,107.38 77.38,110.05 73.62,110.05 70.95,107.38 70.95,103.62 73.62,100.95 77.38,100.95 80.05,103.62" fill="#ff0000"/>
<circle cx="75.5" cy="105.5" r="2.8" fill="#fff"/>
<text x="62.3" y="97.8" font-family='"Liberation Sans", sans-serif' font-size="8.5" fill="#061206" stroke="#061206" stroke-width="0.18" textLength="24.5" lengthAdjust="spacingAndGlyphs">Bejárat</text>
<text x="62" y="117.6" font-family='"Liberation Sans", sans-serif' font-size="6.4" fill="#061206" stroke="#061206" stroke-width="0.15" textLength="26.5" lengthAdjust="spacingAndGlyphs">Hívójelz</text>
<rect x="95.0" y="105.0" width="4.5" height="1" fill="#e6e6e6"/>
<path d="M110.5 102.5L113.5 104.1H117.0V106.9H113.5L110.5 108.5Z" fill="#d6d6d6"/>
<polygon points="112.25,108.30 108.30,112.25 102.70,112.25 98.75,108.30 98.75,102.70 102.70,98.75 108.30,98.75 112.25,102.70" fill="#dcdcdc"/>
<polygon points="111.30,107.90 107.90,111.30 103.10,111.30 99.70,107.90 99.70,103.10 103.10,99.70 107.90,99.70 111.30,103.10" fill="#000"/>
<polygon points="110.05,107.38 107.38,110.05 103.62,110.05 100.95,107.38 100.95,103.62 103.62,100.95 107.38,100.95 110.05,103.62" fill="#ff0000"/>
<circle cx="105.5" cy="105.5" r="2.8" fill="#fff"/>
<text x="92.3" y="98.6" font-family='"Liberation Sans", sans-serif' font-size="9.5" fill="#061206" stroke="#061206" stroke-width="0.18" textLength="25.5" lengthAdjust="spacingAndGlyphs">Kijárat</text>
<text x="92" y="117.6" font-family='"Liberation Sans", sans-serif' font-size="6.4" fill="#061206" stroke="#061206" stroke-width="0.15" textLength="26.5" lengthAdjust="spacingAndGlyphs">Hívójelz</text>
<rect x="125.0" y="105.0" width="4.5" height="1" fill="#e6e6e6"/>
<path d="M140.5 102.5L143.5 104.1H147.0V106.9H143.5L140.5 108.5Z" fill="#d6d6d6"/>
<polygon points="142.25,108.30 138.30,112.25 132.70,112.25 128.75,108.30 128.75,102.70 132.70,98.75 138.30,98.75 142.25,102.70" fill="#dcdcdc"/>
<polygon points="141.30,107.90 137.90,111.30 133.10,111.30 129.70,107.90 129.70,103.10 133.10,99.70 137.90,99.70 141.30,103.10" fill="#000"/>
<polygon points="140.05,107.38 137.38,110.05 133.62,110.05 130.95,107.38 130.95,103.62 133.62,100.95 137.38,100.95 140.05,103.62" fill="#000"/>
<circle cx="135.5" cy="105.5" r="2.8" fill="#fff"/>
<text x="123" y="95" font-family='"Liberation Sans", sans-serif' font-size="5.5" fill="#061206" stroke="#061206" stroke-width="0.25" textLength="23" lengthAdjust="spacingAndGlyphs">Szigetelés</text>
<text x="122.5" y="117.5" font-family='"Liberation Sans", sans-serif' font-size="8" fill="#061206" stroke="#061206" stroke-width="0.18" textLength="25" lengthAdjust="spacingAndGlyphs">kikapcs</text>
<rect x="155.0" y="105.0" width="4.5" height="1" fill="#e6e6e6"/>
<path d="M170.5 102.5L173.5 104.1H177.0V106.9H173.5L170.5 108.5Z" fill="#d6d6d6"/>
<polygon points="172.25,108.30 168.30,112.25 162.70,112.25 158.75,108.30 158.75,102.70 162.70,98.75 168.30,98.75 172.25,102.70" fill="#dcdcdc"/>
<polygon points="171.30,107.90 167.90,111.30 163.10,111.30 159.70,107.90 159.70,103.10 163.10,99.70 167.90,99.70 171.30,103.10" fill="#000"/>
<polygon points="170.05,107.38 167.38,110.05 163.62,110.05 160.95,107.38 160.95,103.62 163.62,100.95 167.38,100.95 170.05,103.62" fill="#000"/>
<circle cx="165.5" cy="105.5" r="2.8" fill="#ff0000"/>
<text x="153" y="95" font-family='"Liberation Sans", sans-serif' font-size="5.5" fill="#061206" stroke="#061206" stroke-width="0.25" textLength="23" lengthAdjust="spacingAndGlyphs">Kényszer</text>
<text x="154" y="117.8" font-family='"Liberation Sans", sans-serif' font-size="9.5" fill="#061206" stroke="#061206" stroke-width="0.18" textLength="21" lengthAdjust="spacingAndGlyphs">oldás</text>
<rect x="215.0" y="105.0" width="4.5" height="1" fill="#e6e6e6"/>
<path d="M230.5 102.5L233.5 104.1H237.0V106.9H233.5L230.5 108.5Z" fill="#d6d6d6"/>
<polygon points="232.25,108.30 228.30,112.25 222.70,112.25 218.75,108.30 218.75,102.70 222.70,98.75 228.30,98.75 232.25,102.70" fill="#dcdcdc"/>
<polygon points="231.30,107.90 227.90,111.30 223.10,111.30 219.70,107.90 219.70,103.10 223.10,99.70 227.90,99.70 231.30,103.10" fill="#000"/>
<polygon points="230.05,107.38 227.38,110.05 223.62,110.05 220.95,107.38 220.95,103.62 223.62,100.95 227.38,100.95 230.05,103.62" fill="#ff0000"/>
<circle cx="225.5" cy="105.5" r="3.6" fill="#000"/>
<circle cx="225.5" cy="105.5" r="2.8" fill="#ff0000"/>
<text x="214.5" y="98.5" font-family='"Liberation Sans", sans-serif' font-size="9.5" fill="#061206" stroke="#061206" stroke-width="0.18" textLength="22" lengthAdjust="spacingAndGlyphs">Jelző</text>
<text x="212" y="117.5" font-family='"Liberation Sans", sans-serif' font-size="7.5" fill="#061206" textLength="26" lengthAdjust="spacingAndGlyphs" font-weight="bold">Megállj!</text>
<text x="241" y="110" font-family='"Liberation Sans", sans-serif' font-size="10.5" fill="#061206" stroke="#061206" stroke-width="0.1" text-rendering="geometricPrecision" textLength="28.5" lengthAdjust="spacingAndGlyphs">Zavar</text>
<path d="M253 96.5L254.8 95H257.3V98H254.8Z" fill="#5a5a5a"/>
<polygon points="261.10,114.82 257.82,118.10 253.18,118.10 249.90,114.82 249.90,110.18 253.18,106.90 257.82,106.90 261.10,110.18" fill="#e8e8e8"/>
<polygon points="260.40,114.53 257.53,117.40 253.47,117.40 250.60,114.53 250.60,110.47 253.47,107.60 257.53,107.60 260.40,110.47" fill="#000"/>
<circle cx="255.5" cy="112.5" r="2.9" fill="#ff0000"/>
<text x="2.5" y="245" font-family='"Liberation Sans", sans-serif' font-size="6" fill="#0a180a" stroke="#0a180a" stroke-width="0.25" textLength="25" lengthAdjust="spacingAndGlyphs">Térk. Jelz.</text>
<rect x="5.0" y="255.0" width="4.5" height="1" fill="#e6e6e6"/>
<path d="M20.5 252.5L23.5 254.1H27.0V256.9H23.5L20.5 258.5Z" fill="#d6d6d6"/>
<polygon points="22.25,258.30 18.30,262.25 12.70,262.25 8.75,258.30 8.75,252.70 12.70,248.75 18.30,248.75 22.25,252.70" fill="#dcdcdc"/>
<polygon points="21.30,257.90 17.90,261.30 13.10,261.30 9.70,257.90 9.70,253.10 13.10,249.70 17.90,249.70 21.30,253.10" fill="#000"/>
<polygon points="20.05,257.38 17.38,260.05 13.62,260.05 10.95,257.38 10.95,253.62 13.62,250.95 17.38,250.95 20.05,253.62" fill="#ff0000"/>
<circle cx="15.5" cy="255.5" r="3.6" fill="#000"/>
<circle cx="15.5" cy="255.5" r="2.8" fill="#ff0000"/>
<rect x="12.9" y="254.5" width="5.2" height="1.5" fill="#000"/>
<text x="2.5" y="268.2" font-family='"Liberation Sans", sans-serif' font-size="7.6" fill="#061206" stroke="#061206" stroke-width="0.18" textLength="25.5" lengthAdjust="spacingAndGlyphs">Megállj</text>
<text x="39" y="243.5" font-family='"Liberation Sans", sans-serif' font-size="5.5" fill="#0a180a" stroke="#0a180a" stroke-width="0.25" textLength="21" lengthAdjust="spacingAndGlyphs">Térk.zav.</text>
<path d="M34 246.5L35.8 245H38.3V248H35.8Z" fill="#5a5a5a"/>
<rect x="35.0" y="255.0" width="4.5" height="1" fill="#e6e6e6"/>
<path d="M50.5 252.5L53.5 254.1H57.0V256.9H53.5L50.5 258.5Z" fill="#d6d6d6"/>
<polygon points="52.25,258.30 48.30,262.25 42.70,262.25 38.75,258.30 38.75,252.70 42.70,248.75 48.30,248.75 52.25,252.70" fill="#dcdcdc"/>
<polygon points="51.30,257.90 47.90,261.30 43.10,261.30 39.70,257.90 39.70,253.10 43.10,249.70 47.90,249.70 51.30,253.10" fill="#000"/>
<polygon points="50.05,257.38 47.38,260.05 43.62,260.05 40.95,257.38 40.95,253.62 43.62,250.95 47.38,250.95 50.05,253.62" fill="#ff0000"/>
<circle cx="45.5" cy="255.5" r="3.6" fill="#000"/>
<circle cx="45.5" cy="255.5" r="2.8" fill="#909090"/>
<text x="34" y="268" font-family='"Liberation Sans", sans-serif' font-size="9.5" fill="#061206" stroke="#061206" stroke-width="0.18" textLength="21" lengthAdjust="spacingAndGlyphs">oldás</text>
<path d="M73 246.5L74.8 245H77.3V248H74.8Z" fill="#2a5a8a"/>
<text x="61" y="257" font-family='"Liberation Sans", sans-serif' font-size="6" fill="#0a180a" stroke="#0a180a" stroke-width="0.25" textLength="28" lengthAdjust="spacingAndGlyphs">Men.ir.Vált</text>
<polygon points="81.20,264.66 77.86,268.00 73.14,268.00 69.80,264.66 69.80,259.94 73.14,256.60 77.86,256.60 81.20,259.94" fill="#000"/>
<polygon points="80.05,264.18 77.38,266.85 73.62,266.85 70.95,264.18 70.95,260.42 73.62,257.75 77.38,257.75 80.05,260.42" fill="#ff0000"/>
<circle cx="75.5" cy="262.3" r="3.7" fill="#000"/>
<circle cx="75.5" cy="262.3" r="2.8" fill="#ff0000"/>
<rect x="72.9" y="261.3" width="5.2" height="1.5" fill="#000"/>
<path d="M93 245.2H98.5V243.8L103 246.5L98.5 249.2V247.8H93Z" fill="#c4ffc4"/>
<path d="M117 245.2H111.5V243.8L107 246.5L111.5 249.2V247.8H117Z" fill="#167a16"/>
<polygon points="111.20,257.86 107.86,261.20 103.14,261.20 99.80,257.86 99.80,253.14 103.14,249.80 107.86,249.80 111.20,253.14" fill="#000028"/>
<polygon points="110.30,257.49 107.49,260.30 103.51,260.30 100.70,257.49 100.70,253.51 103.51,250.70 107.49,250.70 110.30,253.51" fill="#0000ff"/>
<circle cx="105.5" cy="255.5" r="3.8" fill="#000038"/>
<circle cx="105.5" cy="255.5" r="2.9" fill="#0000ff"/>
<text x="93" y="268.7" font-family='"Liberation Sans", sans-serif' font-size="5.5" fill="#061206" stroke="#061206" stroke-width="0.25" textLength="23" lengthAdjust="spacingAndGlyphs">Men.ir.kér</text>
<text x="1772.5" y="305" font-family='"Liberation Sans", sans-serif' font-size="6" fill="#0a180a" stroke="#0a180a" stroke-width="0.25" textLength="25" lengthAdjust="spacingAndGlyphs">Térk. Jelz.</text>
<rect x="1775.0" y="315.0" width="4.5" height="1" fill="#e6e6e6"/>
<path d="M1790.5 312.5L1793.5 314.1H1797.0V316.9H1793.5L1790.5 318.5Z" fill="#d6d6d6"/>
<polygon points="1792.25,318.30 1788.30,322.25 1782.70,322.25 1778.75,318.30 1778.75,312.70 1782.70,308.75 1788.30,308.75 1792.25,312.70" fill="#dcdcdc"/>
<polygon points="1791.30,317.90 1787.90,321.30 1783.10,321.30 1779.70,317.90 1779.70,313.10 1783.10,309.70 1787.90,309.70 1791.30,313.10" fill="#000"/>
<polygon points="1790.05,317.38 1787.38,320.05 1783.62,320.05 1780.95,317.38 1780.95,313.62 1783.62,310.95 1787.38,310.95 1790.05,313.62" fill="#ff0000"/>
<circle cx="1785.5" cy="315.5" r="3.6" fill="#000"/>
<circle cx="1785.5" cy="315.5" r="2.8" fill="#ff0000"/>
<rect x="1782.9" y="314.5" width="5.2" height="1.5" fill="#000"/>
<text x="1772.5" y="328.2" font-family='"Liberation Sans", sans-serif' font-size="7.6" fill="#061206" stroke="#061206" stroke-width="0.18" textLength="25.5" lengthAdjust="spacingAndGlyphs">Megállj</text>
<text x="1749" y="303.5" font-family='"Liberation Sans", sans-serif' font-size="5.5" fill="#0a180a" stroke="#0a180a" stroke-width="0.25" textLength="21" lengthAdjust="spacingAndGlyphs">Térk.zav.</text>
<path d="M1744 306.5L1745.8 305H1748.3V308H1745.8Z" fill="#5a5a5a"/>
<rect x="1745.0" y="315.0" width="4.5" height="1" fill="#e6e6e6"/>
<path d="M1760.5 312.5L1763.5 314.1H1767.0V316.9H1763.5L1760.5 318.5Z" fill="#d6d6d6"/>
<polygon points="1762.25,318.30 1758.30,322.25 1752.70,322.25 1748.75,318.30 1748.75,312.70 1752.70,308.75 1758.30,308.75 1762.25,312.70" fill="#dcdcdc"/>
<polygon points="1761.30,317.90 1757.90,321.30 1753.10,321.30 1749.70,317.90 1749.70,313.10 1753.10,309.70 1757.90,309.70 1761.30,313.10" fill="#000"/>
<polygon points="1760.05,317.38 1757.38,320.05 1753.62,320.05 1750.95,317.38 1750.95,313.62 1753.62,310.95 1757.38,310.95 1760.05,313.62" fill="#ff0000"/>
<circle cx="1755.5" cy="315.5" r="3.6" fill="#000"/>
<circle cx="1755.5" cy="315.5" r="2.8" fill="#909090"/>
<text x="1744" y="328" font-family='"Liberation Sans", sans-serif' font-size="9.5" fill="#061206" stroke="#061206" stroke-width="0.18" textLength="21" lengthAdjust="spacingAndGlyphs">oldás</text>
<path d="M1723 306.5L1724.8 305H1727.3V308H1724.8Z" fill="#2a5a8a"/>
<text x="1711" y="317" font-family='"Liberation Sans", sans-serif' font-size="6" fill="#0a180a" stroke="#0a180a" stroke-width="0.25" textLength="28" lengthAdjust="spacingAndGlyphs">Men.ir.Vált</text>
<polygon points="1731.20,324.66 1727.86,328.00 1723.14,328.00 1719.80,324.66 1719.80,319.94 1723.14,316.60 1727.86,316.60 1731.20,319.94" fill="#000"/>
<polygon points="1730.05,324.18 1727.38,326.85 1723.62,326.85 1720.95,324.18 1720.95,320.42 1723.62,317.75 1727.38,317.75 1730.05,320.42" fill="#ff0000"/>
<circle cx="1725.5" cy="322.3" r="3.7" fill="#000"/>
<circle cx="1725.5" cy="322.3" r="2.8" fill="#ff0000"/>
<rect x="1722.9" y="321.3" width="5.2" height="1.5" fill="#000"/>
<path d="M1683 305.2H1688.5V303.8L1693 306.5L1688.5 309.2V307.8H1683Z" fill="#c4ffc4"/>
<path d="M1707 305.2H1701.5V303.8L1697 306.5L1701.5 309.2V307.8H1707Z" fill="#167a16"/>
<polygon points="1701.20,317.86 1697.86,321.20 1693.14,321.20 1689.80,317.86 1689.80,313.14 1693.14,309.80 1697.86,309.80 1701.20,313.14" fill="#000028"/>
<polygon points="1700.30,317.49 1697.49,320.30 1693.51,320.30 1690.70,317.49 1690.70,313.51 1693.51,310.70 1697.49,310.70 1700.30,313.51" fill="#0000ff"/>
<circle cx="1695.5" cy="315.5" r="3.8" fill="#000038"/>
<circle cx="1695.5" cy="315.5" r="2.9" fill="#0000ff"/>
<text x="1683" y="328.7" font-family='"Liberation Sans", sans-serif' font-size="5.5" fill="#061206" stroke="#061206" stroke-width="0.25" textLength="23" lengthAdjust="spacingAndGlyphs">Men.ir.kér</text>
<path d="M37 368.5L38.8 367H41.3V370H38.8Z" fill="#5a5a5a"/>
<rect x="44" y="363" width="3" height="9" fill="#b6ffb6" shape-rendering="crispEdges"/>
<rect x="33" y="374" width="9" height="3" fill="#5a0000" shape-rendering="crispEdges"/>
<path d="M37 382.5L38.8 381H41.3V384H38.8Z" fill="#5a5a5a"/>
<text x="32" y="406.5" font-family='"Liberation Sans", sans-serif' font-size="7.5" fill="#fff" textLength="24.5" lengthAdjust="spacingAndGlyphs">AS 142</text>
<rect x="35.0" y="465.0" width="4.5" height="1" fill="#e6e6e6"/>
<path d="M50.5 462.5L53.5 464.1H57.0V466.9H53.5L50.5 468.5Z" fill="#d6d6d6"/>
<polygon points="52.25,468.30 48.30,472.25 42.70,472.25 38.75,468.30 38.75,462.70 42.70,458.75 48.30,458.75 52.25,462.70" fill="#dcdcdc"/>
<polygon points="51.30,467.90 47.90,471.30 43.10,471.30 39.70,467.90 39.70,463.10 43.10,459.70 47.90,459.70 51.30,463.10" fill="#000"/>
<polygon points="50.05,467.38 47.38,470.05 43.62,470.05 40.95,467.38 40.95,463.62 43.62,460.95 47.38,460.95 50.05,463.62" fill="#ff0000"/>
<circle cx="45.5" cy="465.5" r="2.8" fill="#ffff00"/>
<text x="32" y="478" font-family='"Liberation Sans", sans-serif' font-size="6.5" fill="#061206" stroke="#061206" stroke-width="0" textLength="27" lengthAdjust="spacingAndGlyphs">Zav F/M!</text>
<path d="M67 368.5L68.8 367H71.3V370H68.8Z" fill="#5a5a5a"/>
<rect x="74" y="363" width="3" height="9" fill="#b6ffb6" shape-rendering="crispEdges"/>
<rect x="63" y="374" width="9" height="3" fill="#5a0000" shape-rendering="crispEdges"/>
<path d="M67 382.5L68.8 381H71.3V384H68.8Z" fill="#5a5a5a"/>
<text x="62" y="406.5" font-family='"Liberation Sans", sans-serif' font-size="7.5" fill="#fff" textLength="24.5" lengthAdjust="spacingAndGlyphs">AS 162</text>
<rect x="65.0" y="465.0" width="4.5" height="1" fill="#e6e6e6"/>
<path d="M80.5 462.5L83.5 464.1H87.0V466.9H83.5L80.5 468.5Z" fill="#d6d6d6"/>
<polygon points="82.25,468.30 78.30,472.25 72.70,472.25 68.75,468.30 68.75,462.70 72.70,458.75 78.30,458.75 82.25,462.70" fill="#dcdcdc"/>
<polygon points="81.30,467.90 77.90,471.30 73.10,471.30 69.70,467.90 69.70,463.10 73.10,459.70 77.90,459.70 81.30,463.10" fill="#000"/>
<polygon points="80.05,467.38 77.38,470.05 73.62,470.05 70.95,467.38 70.95,463.62 73.62,460.95 77.38,460.95 80.05,463.62" fill="#ff0000"/>
<circle cx="75.5" cy="465.5" r="2.8" fill="#ffff00"/>
<text x="62" y="478" font-family='"Liberation Sans", sans-serif' font-size="6.5" fill="#061206" stroke="#061206" stroke-width="0" textLength="27" lengthAdjust="spacingAndGlyphs">Zav F/M!</text>
<path d="M1687 398.5L1688.8 397H1691.3V400H1688.8Z" fill="#5a5a5a"/>
<rect x="1694" y="393" width="3" height="9" fill="#b6ffb6" shape-rendering="crispEdges"/>
<rect x="1683" y="404" width="9" height="3" fill="#5a0000" shape-rendering="crispEdges"/>
<path d="M1687 412.5L1688.8 411H1691.3V414H1688.8Z" fill="#5a5a5a"/>
<text x="1682" y="436.5" font-family='"Liberation Sans", sans-serif' font-size="7.5" fill="#fff" textLength="24.5" lengthAdjust="spacingAndGlyphs">AS 210</text>
<rect x="1685.0" y="495.0" width="4.5" height="1" fill="#e6e6e6"/>
<path d="M1700.5 492.5L1703.5 494.1H1707.0V496.9H1703.5L1700.5 498.5Z" fill="#d6d6d6"/>
<polygon points="1702.25,498.30 1698.30,502.25 1692.70,502.25 1688.75,498.30 1688.75,492.70 1692.70,488.75 1698.30,488.75 1702.25,492.70" fill="#dcdcdc"/>
<polygon points="1701.30,497.90 1697.90,501.30 1693.10,501.30 1689.70,497.90 1689.70,493.10 1693.10,489.70 1697.90,489.70 1701.30,493.10" fill="#000"/>
<polygon points="1700.05,497.38 1697.38,500.05 1693.62,500.05 1690.95,497.38 1690.95,493.62 1693.62,490.95 1697.38,490.95 1700.05,493.62" fill="#ff0000"/>
<circle cx="1695.5" cy="495.5" r="2.8" fill="#ffff00"/>
<text x="1682" y="508" font-family='"Liberation Sans", sans-serif' font-size="6.5" fill="#061206" stroke="#061206" stroke-width="0" textLength="27" lengthAdjust="spacingAndGlyphs">Zav F/M!</text>
<path d="M1717 398.5L1718.8 397H1721.3V400H1718.8Z" fill="#5a5a5a"/>
<rect x="1724" y="393" width="3" height="9" fill="#0a6a0a" shape-rendering="crispEdges"/>
<rect x="1713" y="404" width="9" height="3" fill="#5a0000" shape-rendering="crispEdges"/>
<path d="M1717 412.5L1718.8 411H1721.3V414H1718.8Z" fill="#5a5a5a"/>
<text x="1712" y="436.5" font-family='"Liberation Sans", sans-serif' font-size="7.5" fill="#fff" textLength="24.5" lengthAdjust="spacingAndGlyphs">AS 222</text>
<rect x="1715.0" y="495.0" width="4.5" height="1" fill="#e6e6e6"/>
<path d="M1730.5 492.5L1733.5 494.1H1737.0V496.9H1733.5L1730.5 498.5Z" fill="#d6d6d6"/>
<polygon points="1732.25,498.30 1728.30,502.25 1722.70,502.25 1718.75,498.30 1718.75,492.70 1722.70,488.75 1728.30,488.75 1732.25,492.70" fill="#dcdcdc"/>
<polygon points="1731.30,497.90 1727.90,501.30 1723.10,501.30 1719.70,497.90 1719.70,493.10 1723.10,489.70 1727.90,489.70 1731.30,493.10" fill="#000"/>
<polygon points="1730.05,497.38 1727.38,500.05 1723.62,500.05 1720.95,497.38 1720.95,493.62 1723.62,490.95 1727.38,490.95 1730.05,493.62" fill="#ff0000"/>
<circle cx="1725.5" cy="495.5" r="2.8" fill="#ffff00"/>
<text x="1712" y="508" font-family='"Liberation Sans", sans-serif' font-size="6.5" fill="#061206" stroke="#061206" stroke-width="0" textLength="27" lengthAdjust="spacingAndGlyphs">Zav F/M!</text>
<path d="M163 456.5L164.8 455H167.3V458H164.8Z" fill="#5a5a5a"/>
<text x="162.7" y="469.6" font-family='"Liberation Sans", sans-serif' font-size="12.5" fill="#000" textLength="5.6" lengthAdjust="spacingAndGlyphs">2</text>
<polygon points="171.00,474.78 167.78,478.00 163.22,478.00 160.00,474.78 160.00,470.22 163.22,467.00 167.78,467.00 171.00,470.22" fill="#fff"/>
<polygon points="170.30,474.49 167.49,477.30 163.51,477.30 160.70,474.49 160.70,470.51 163.51,467.70 167.49,467.70 170.30,470.51" fill="#000"/>
<circle cx="165.5" cy="472.5" r="3.6" fill="#fff"/>
<circle cx="165.5" cy="472.5" r="2.7" fill="#000"/>
<path d="M193 456.5L194.8 455H197.3V458H194.8Z" fill="#5a5a5a"/>
<text x="192.7" y="469.6" font-family='"Liberation Sans", sans-serif' font-size="12.5" fill="#000" textLength="5.6" lengthAdjust="spacingAndGlyphs">4</text>
<polygon points="201.00,474.78 197.78,478.00 193.22,478.00 190.00,474.78 190.00,470.22 193.22,467.00 197.78,467.00 201.00,470.22" fill="#fff"/>
<polygon points="200.30,474.49 197.49,477.30 193.51,477.30 190.70,474.49 190.70,470.51 193.51,467.70 197.49,467.70 200.30,470.51" fill="#000"/>
<circle cx="195.5" cy="472.5" r="3.6" fill="#fff"/>
<circle cx="195.5" cy="472.5" r="2.7" fill="#000"/>
<path d="M223 456.5L224.8 455H227.3V458H224.8Z" fill="#5a5a5a"/>
<text x="222.7" y="469.6" font-family='"Liberation Sans", sans-serif' font-size="12.5" fill="#000" textLength="5.6" lengthAdjust="spacingAndGlyphs">6</text>
<polygon points="231.00,474.78 227.78,478.00 223.22,478.00 220.00,474.78 220.00,470.22 223.22,467.00 227.78,467.00 231.00,470.22" fill="#fff"/>
<polygon points="230.30,474.49 227.49,477.30 223.51,477.30 220.70,474.49 220.70,470.51 223.51,467.70 227.49,467.70 230.30,470.51" fill="#000"/>
<circle cx="225.5" cy="472.5" r="3.6" fill="#fff"/>
<circle cx="225.5" cy="472.5" r="2.7" fill="#000"/>
<path d="M253 456.5L254.8 455H257.3V458H254.8Z" fill="#5a5a5a"/>
<text x="252.7" y="469.6" font-family='"Liberation Sans", sans-serif' font-size="12.5" fill="#000" textLength="5.6" lengthAdjust="spacingAndGlyphs">8</text>
<polygon points="261.00,474.78 257.78,478.00 253.22,478.00 250.00,474.78 250.00,470.22 253.22,467.00 257.78,467.00 261.00,470.22" fill="#fff"/>
<polygon points="260.30,474.49 257.49,477.30 253.51,477.30 250.70,474.49 250.70,470.51 253.51,467.70 257.49,467.70 260.30,470.51" fill="#000"/>
<circle cx="255.5" cy="472.5" r="3.6" fill="#fff"/>
<circle cx="255.5" cy="472.5" r="2.7" fill="#000"/>
<path d="M283 456.5L284.8 455H287.3V458H284.8Z" fill="#5a5a5a"/>
<text x="279.8" y="469.6" font-family='"Liberation Sans", sans-serif' font-size="12.5" fill="#000" textLength="11.4" lengthAdjust="spacingAndGlyphs">10</text>
<polygon points="291.00,474.78 287.78,478.00 283.22,478.00 280.00,474.78 280.00,470.22 283.22,467.00 287.78,467.00 291.00,470.22" fill="#fff"/>
<polygon points="290.30,474.49 287.49,477.30 283.51,477.30 280.70,474.49 280.70,470.51 283.51,467.70 287.49,467.70 290.30,470.51" fill="#000"/>
<circle cx="285.5" cy="472.5" r="3.6" fill="#fff"/>
<circle cx="285.5" cy="472.5" r="2.7" fill="#000"/>
<path d="M163 486.5L164.8 485H167.3V488H164.8Z" fill="#5a5a5a"/>
<text x="159.8" y="499.6" font-family='"Liberation Sans", sans-serif' font-size="12.5" fill="#000" textLength="11.4" lengthAdjust="spacingAndGlyphs">12</text>
<polygon points="171.00,504.78 167.78,508.00 163.22,508.00 160.00,504.78 160.00,500.22 163.22,497.00 167.78,497.00 171.00,500.22" fill="#fff"/>
<polygon points="170.30,504.49 167.49,507.30 163.51,507.30 160.70,504.49 160.70,500.51 163.51,497.70 167.49,497.70 170.30,500.51" fill="#000"/>
<circle cx="165.5" cy="502.5" r="3.6" fill="#fff"/>
<circle cx="165.5" cy="502.5" r="2.7" fill="#000"/>
<path d="M193 486.5L194.8 485H197.3V488H194.8Z" fill="#5a5a5a"/>
<text x="189.8" y="499.6" font-family='"Liberation Sans", sans-serif' font-size="12.5" fill="#000" textLength="11.4" lengthAdjust="spacingAndGlyphs">14</text>
<polygon points="201.00,504.78 197.78,508.00 193.22,508.00 190.00,504.78 190.00,500.22 193.22,497.00 197.78,497.00 201.00,500.22" fill="#fff"/>
<polygon points="200.30,504.49 197.49,507.30 193.51,507.30 190.70,504.49 190.70,500.51 193.51,497.70 197.49,497.70 200.30,500.51" fill="#000"/>
<circle cx="195.5" cy="502.5" r="3.6" fill="#fff"/>
<circle cx="195.5" cy="502.5" r="2.7" fill="#000"/>
<path d="M223 486.5L224.8 485H227.3V488H224.8Z" fill="#5a5a5a"/>
<text x="219.8" y="499.6" font-family='"Liberation Sans", sans-serif' font-size="12.5" fill="#000" textLength="11.4" lengthAdjust="spacingAndGlyphs">16</text>
<polygon points="231.00,504.78 227.78,508.00 223.22,508.00 220.00,504.78 220.00,500.22 223.22,497.00 227.78,497.00 231.00,500.22" fill="#fff"/>
<polygon points="230.30,504.49 227.49,507.30 223.51,507.30 220.70,504.49 220.70,500.51 223.51,497.70 227.49,497.70 230.30,500.51" fill="#000"/>
<circle cx="225.5" cy="502.5" r="3.6" fill="#fff"/>
<circle cx="225.5" cy="502.5" r="2.7" fill="#000"/>
<path d="M253 486.5L254.8 485H257.3V488H254.8Z" fill="#fff"/>
<text x="249.8" y="499.6" font-family='"Liberation Sans", sans-serif' font-size="12.5" fill="#000" textLength="11.4" lengthAdjust="spacingAndGlyphs">18</text>
<polygon points="261.00,504.78 257.78,508.00 253.22,508.00 250.00,504.78 250.00,500.22 253.22,497.00 257.78,497.00 261.00,500.22" fill="#fff"/>
<polygon points="260.30,504.49 257.49,507.30 253.51,507.30 250.70,504.49 250.70,500.51 253.51,497.70 257.49,497.70 260.30,500.51" fill="#000"/>
<circle cx="255.5" cy="502.5" r="3.6" fill="#fff"/>
<circle cx="255.5" cy="502.5" r="2.7" fill="#000"/>
<path d="M283 486.5L284.8 485H287.3V488H284.8Z" fill="#5a5a5a"/>
<text x="279.8" y="499.6" font-family='"Liberation Sans", sans-serif' font-size="12.5" fill="#000" textLength="11.4" lengthAdjust="spacingAndGlyphs">20</text>
<polygon points="291.00,504.78 287.78,508.00 283.22,508.00 280.00,504.78 280.00,500.22 283.22,497.00 287.78,497.00 291.00,500.22" fill="#fff"/>
<polygon points="290.30,504.49 287.49,507.30 283.51,507.30 280.70,504.49 280.70,500.51 283.51,497.70 287.49,497.70 290.30,500.51" fill="#000"/>
<circle cx="285.5" cy="502.5" r="3.6" fill="#fff"/>
<circle cx="285.5" cy="502.5" r="2.7" fill="#000"/>
<path d="M193 516.5L194.8 515H197.3V518H194.8Z" fill="#fff"/>
<text x="189.8" y="529.6" font-family='"Liberation Sans", sans-serif' font-size="12.5" fill="#000" textLength="11.4" lengthAdjust="spacingAndGlyphs">22</text>
<polygon points="201.00,534.78 197.78,538.00 193.22,538.00 190.00,534.78 190.00,530.22 193.22,527.00 197.78,527.00 201.00,530.22" fill="#fff"/>
<polygon points="200.30,534.49 197.49,537.30 193.51,537.30 190.70,534.49 190.70,530.51 193.51,527.70 197.49,527.70 200.30,530.51" fill="#000"/>
<circle cx="195.5" cy="532.5" r="3.6" fill="#fff"/>
<circle cx="195.5" cy="532.5" r="2.7" fill="#000"/>
<path d="M253 516.5L254.8 515H257.3V518H254.8Z" fill="#5a5a5a"/>
<text x="249.8" y="529.6" font-family='"Liberation Sans", sans-serif' font-size="12.5" fill="#000" textLength="11.4" lengthAdjust="spacingAndGlyphs">24</text>
<polygon points="261.00,534.78 257.78,538.00 253.22,538.00 250.00,534.78 250.00,530.22 253.22,527.00 257.78,527.00 261.00,530.22" fill="#fff"/>
<polygon points="260.30,534.49 257.49,537.30 253.51,537.30 250.70,534.49 250.70,530.51 253.51,527.70 257.49,527.70 260.30,530.51" fill="#000"/>
<circle cx="255.5" cy="532.5" r="3.6" fill="#fff"/>
<circle cx="255.5" cy="532.5" r="2.7" fill="#000"/>
<path d="M1033 456.5L1034.8 455H1037.3V458H1034.8Z" fill="#5a5a5a"/>
<text x="1021.9" y="469.6" font-family='"Liberation Sans", sans-serif' font-size="12.5" fill="#000" textLength="27.2" lengthAdjust="spacingAndGlyphs">1/1 a</text>
<polygon points="1041.00,474.78 1037.78,478.00 1033.22,478.00 1030.00,474.78 1030.00,470.22 1033.22,467.00 1037.78,467.00 1041.00,470.22" fill="#fff"/>
<polygon points="1040.30,474.49 1037.49,477.30 1033.51,477.30 1030.70,474.49 1030.70,470.51 1033.51,467.70 1037.49,467.70 1040.30,470.51" fill="#000"/>
<circle cx="1035.5" cy="472.5" r="3.6" fill="#fff"/>
<circle cx="1035.5" cy="472.5" r="2.7" fill="#000"/>
<path d="M1063 456.5L1064.8 455H1067.3V458H1064.8Z" fill="#5a5a5a"/>
<text x="1051.9" y="469.6" font-family='"Liberation Sans", sans-serif' font-size="12.5" fill="#000" textLength="27.2" lengthAdjust="spacingAndGlyphs">1/1 b</text>
<polygon points="1071.00,474.78 1067.78,478.00 1063.22,478.00 1060.00,474.78 1060.00,470.22 1063.22,467.00 1067.78,467.00 1071.00,470.22" fill="#fff"/>
<polygon points="1070.30,474.49 1067.49,477.30 1063.51,477.30 1060.70,474.49 1060.70,470.51 1063.51,467.70 1067.49,467.70 1070.30,470.51" fill="#000"/>
<circle cx="1065.5" cy="472.5" r="3.6" fill="#fff"/>
<circle cx="1065.5" cy="472.5" r="2.7" fill="#000"/>
<path d="M1093 456.5L1094.8 455H1097.3V458H1094.8Z" fill="#5a5a5a"/>
<text x="1087.25" y="469.6" font-family='"Liberation Sans", sans-serif' font-size="12.5" fill="#000" textLength="16.5" lengthAdjust="spacingAndGlyphs">1/2</text>
<polygon points="1101.00,474.78 1097.78,478.00 1093.22,478.00 1090.00,474.78 1090.00,470.22 1093.22,467.00 1097.78,467.00 1101.00,470.22" fill="#fff"/>
<polygon points="1100.30,474.49 1097.49,477.30 1093.51,477.30 1090.70,474.49 1090.70,470.51 1093.51,467.70 1097.49,467.70 1100.30,470.51" fill="#000"/>
<circle cx="1095.5" cy="472.5" r="3.6" fill="#fff"/>
<circle cx="1095.5" cy="472.5" r="2.7" fill="#000"/>
<path d="M1123 456.5L1124.8 455H1127.3V458H1124.8Z" fill="#5a5a5a"/>
<text x="1117.25" y="469.6" font-family='"Liberation Sans", sans-serif' font-size="12.5" fill="#000" textLength="16.5" lengthAdjust="spacingAndGlyphs">1/3</text>
<polygon points="1131.00,474.78 1127.78,478.00 1123.22,478.00 1120.00,474.78 1120.00,470.22 1123.22,467.00 1127.78,467.00 1131.00,470.22" fill="#fff"/>
<polygon points="1130.30,474.49 1127.49,477.30 1123.51,477.30 1120.70,474.49 1120.70,470.51 1123.51,467.70 1127.49,467.70 1130.30,470.51" fill="#000"/>
<circle cx="1125.5" cy="472.5" r="3.6" fill="#fff"/>
<circle cx="1125.5" cy="472.5" r="2.7" fill="#000"/>
<path d="M1153 456.5L1154.8 455H1157.3V458H1154.8Z" fill="#5a5a5a"/>
<text x="1147.25" y="469.6" font-family='"Liberation Sans", sans-serif' font-size="12.5" fill="#000" textLength="16.5" lengthAdjust="spacingAndGlyphs">1/4</text>
<polygon points="1161.00,474.78 1157.78,478.00 1153.22,478.00 1150.00,474.78 1150.00,470.22 1153.22,467.00 1157.78,467.00 1161.00,470.22" fill="#fff"/>
<polygon points="1160.30,474.49 1157.49,477.30 1153.51,477.30 1150.70,474.49 1150.70,470.51 1153.51,467.70 1157.49,467.70 1160.30,470.51" fill="#000"/>
<circle cx="1155.5" cy="472.5" r="3.6" fill="#fff"/>
<circle cx="1155.5" cy="472.5" r="2.7" fill="#000"/>
<path d="M1183 456.5L1184.8 455H1187.3V458H1184.8Z" fill="#5a5a5a"/>
<text x="1177.25" y="469.6" font-family='"Liberation Sans", sans-serif' font-size="12.5" fill="#000" textLength="16.5" lengthAdjust="spacingAndGlyphs">1/5</text>
<polygon points="1191.00,474.78 1187.78,478.00 1183.22,478.00 1180.00,474.78 1180.00,470.22 1183.22,467.00 1187.78,467.00 1191.00,470.22" fill="#fff"/>
<polygon points="1190.30,474.49 1187.49,477.30 1183.51,477.30 1180.70,474.49 1180.70,470.51 1183.51,467.70 1187.49,467.70 1190.30,470.51" fill="#000"/>
<circle cx="1185.5" cy="472.5" r="3.6" fill="#fff"/>
<circle cx="1185.5" cy="472.5" r="2.7" fill="#000"/>
<path d="M1033 486.5L1034.8 485H1037.3V488H1034.8Z" fill="#fff"/>
<text x="1029.8" y="499.6" font-family='"Liberation Sans", sans-serif' font-size="12.5" fill="#000" textLength="11.4" lengthAdjust="spacingAndGlyphs">21</text>
<polygon points="1041.00,504.78 1037.78,508.00 1033.22,508.00 1030.00,504.78 1030.00,500.22 1033.22,497.00 1037.78,497.00 1041.00,500.22" fill="#fff"/>
<polygon points="1040.30,504.49 1037.49,507.30 1033.51,507.30 1030.70,504.49 1030.70,500.51 1033.51,497.70 1037.49,497.70 1040.30,500.51" fill="#000"/>
<circle cx="1035.5" cy="502.5" r="3.6" fill="#fff"/>
<circle cx="1035.5" cy="502.5" r="2.7" fill="#000"/>
<path d="M1063 486.5L1064.8 485H1067.3V488H1064.8Z" fill="#5a5a5a"/>
<text x="1059.8" y="499.6" font-family='"Liberation Sans", sans-serif' font-size="12.5" fill="#000" textLength="11.4" lengthAdjust="spacingAndGlyphs">19</text>
<polygon points="1071.00,504.78 1067.78,508.00 1063.22,508.00 1060.00,504.78 1060.00,500.22 1063.22,497.00 1067.78,497.00 1071.00,500.22" fill="#fff"/>
<polygon points="1070.30,504.49 1067.49,507.30 1063.51,507.30 1060.70,504.49 1060.70,500.51 1063.51,497.70 1067.49,497.70 1070.30,500.51" fill="#000"/>
<circle cx="1065.5" cy="502.5" r="3.6" fill="#fff"/>
<circle cx="1065.5" cy="502.5" r="2.7" fill="#000"/>
<path d="M1093 486.5L1094.8 485H1097.3V488H1094.8Z" fill="#5a5a5a"/>
<text x="1089.8" y="499.6" font-family='"Liberation Sans", sans-serif' font-size="12.5" fill="#000" textLength="11.4" lengthAdjust="spacingAndGlyphs">17</text>
<polygon points="1101.00,504.78 1097.78,508.00 1093.22,508.00 1090.00,504.78 1090.00,500.22 1093.22,497.00 1097.78,497.00 1101.00,500.22" fill="#fff"/>
<polygon points="1100.30,504.49 1097.49,507.30 1093.51,507.30 1090.70,504.49 1090.70,500.51 1093.51,497.70 1097.49,497.70 1100.30,500.51" fill="#000"/>
<circle cx="1095.5" cy="502.5" r="3.6" fill="#fff"/>
<circle cx="1095.5" cy="502.5" r="2.7" fill="#000"/>
<path d="M1123 486.5L1124.8 485H1127.3V488H1124.8Z" fill="#5a5a5a"/>
<text x="1119.8" y="499.6" font-family='"Liberation Sans", sans-serif' font-size="12.5" fill="#000" textLength="11.4" lengthAdjust="spacingAndGlyphs">15</text>
<polygon points="1131.00,504.78 1127.78,508.00 1123.22,508.00 1120.00,504.78 1120.00,500.22 1123.22,497.00 1127.78,497.00 1131.00,500.22" fill="#fff"/>
<polygon points="1130.30,504.49 1127.49,507.30 1123.51,507.30 1120.70,504.49 1120.70,500.51 1123.51,497.70 1127.49,497.70 1130.30,500.51" fill="#000"/>
<circle cx="1125.5" cy="502.5" r="3.6" fill="#fff"/>
<circle cx="1125.5" cy="502.5" r="2.7" fill="#000"/>
<path d="M1153 486.5L1154.8 485H1157.3V488H1154.8Z" fill="#5a5a5a"/>
<text x="1144.25" y="499.6" font-family='"Liberation Sans", sans-serif' font-size="12.5" fill="#000" textLength="22.5" lengthAdjust="spacingAndGlyphs">13/1</text>
<polygon points="1161.00,504.78 1157.78,508.00 1153.22,508.00 1150.00,504.78 1150.00,500.22 1153.22,497.00 1157.78,497.00 1161.00,500.22" fill="#fff"/>
<polygon points="1160.30,504.49 1157.49,507.30 1153.51,507.30 1150.70,504.49 1150.70,500.51 1153.51,497.70 1157.49,497.70 1160.30,500.51" fill="#000"/>
<circle cx="1155.5" cy="502.5" r="3.6" fill="#fff"/>
<circle cx="1155.5" cy="502.5" r="2.7" fill="#000"/>
<path d="M1183 486.5L1184.8 485H1187.3V488H1184.8Z" fill="#5a5a5a"/>
<text x="1179.8" y="499.6" font-family='"Liberation Sans", sans-serif' font-size="12.5" fill="#000" textLength="11.4" lengthAdjust="spacingAndGlyphs">13</text>
<polygon points="1191.00,504.78 1187.78,508.00 1183.22,508.00 1180.00,504.78 1180.00,500.22 1183.22,497.00 1187.78,497.00 1191.00,500.22" fill="#fff"/>
<polygon points="1190.30,504.49 1187.49,507.30 1183.51,507.30 1180.70,504.49 1180.70,500.51 1183.51,497.70 1187.49,497.70 1190.30,500.51" fill="#000"/>
<circle cx="1185.5" cy="502.5" r="3.6" fill="#fff"/>
<circle cx="1185.5" cy="502.5" r="2.7" fill="#000"/>
<path d="M1033 516.5L1034.8 515H1037.3V518H1034.8Z" fill="#fff"/>
<text x="1029.8" y="529.6" font-family='"Liberation Sans", sans-serif' font-size="12.5" fill="#000" textLength="11.4" lengthAdjust="spacingAndGlyphs">11</text>
<polygon points="1041.00,534.78 1037.78,538.00 1033.22,538.00 1030.00,534.78 1030.00,530.22 1033.22,527.00 1037.78,527.00 1041.00,530.22" fill="#fff"/>
<polygon points="1040.30,534.49 1037.49,537.30 1033.51,537.30 1030.70,534.49 1030.70,530.51 1033.51,527.70 1037.49,527.70 1040.30,530.51" fill="#000"/>
<circle cx="1035.5" cy="532.5" r="3.6" fill="#fff"/>
<circle cx="1035.5" cy="532.5" r="2.7" fill="#000"/>
<path d="M1063 516.5L1064.8 515H1067.3V518H1064.8Z" fill="#5a5a5a"/>
<text x="1062.7" y="529.6" font-family='"Liberation Sans", sans-serif' font-size="12.5" fill="#000" textLength="5.6" lengthAdjust="spacingAndGlyphs">9</text>
<polygon points="1071.00,534.78 1067.78,538.00 1063.22,538.00 1060.00,534.78 1060.00,530.22 1063.22,527.00 1067.78,527.00 1071.00,530.22" fill="#fff"/>
<polygon points="1070.30,534.49 1067.49,537.30 1063.51,537.30 1060.70,534.49 1060.70,530.51 1063.51,527.70 1067.49,527.70 1070.30,530.51" fill="#000"/>
<circle cx="1065.5" cy="532.5" r="3.6" fill="#fff"/>
<circle cx="1065.5" cy="532.5" r="2.7" fill="#000"/>
<path d="M1093 516.5L1094.8 515H1097.3V518H1094.8Z" fill="#fff"/>
<text x="1092.7" y="529.6" font-family='"Liberation Sans", sans-serif' font-size="12.5" fill="#000" textLength="5.6" lengthAdjust="spacingAndGlyphs">7</text>
<polygon points="1101.00,534.78 1097.78,538.00 1093.22,538.00 1090.00,534.78 1090.00,530.22 1093.22,527.00 1097.78,527.00 1101.00,530.22" fill="#fff"/>
<polygon points="1100.30,534.49 1097.49,537.30 1093.51,537.30 1090.70,534.49 1090.70,530.51 1093.51,527.70 1097.49,527.70 1100.30,530.51" fill="#000"/>
<circle cx="1095.5" cy="532.5" r="3.6" fill="#fff"/>
<circle cx="1095.5" cy="532.5" r="2.7" fill="#000"/>
<path d="M1123 516.5L1124.8 515H1127.3V518H1124.8Z" fill="#5a5a5a"/>
<text x="1122.7" y="529.6" font-family='"Liberation Sans", sans-serif' font-size="12.5" fill="#000" textLength="5.6" lengthAdjust="spacingAndGlyphs">5</text>
<polygon points="1131.00,534.78 1127.78,538.00 1123.22,538.00 1120.00,534.78 1120.00,530.22 1123.22,527.00 1127.78,527.00 1131.00,530.22" fill="#fff"/>
<polygon points="1130.30,534.49 1127.49,537.30 1123.51,537.30 1120.70,534.49 1120.70,530.51 1123.51,527.70 1127.49,527.70 1130.30,530.51" fill="#000"/>
<circle cx="1125.5" cy="532.5" r="3.6" fill="#fff"/>
<circle cx="1125.5" cy="532.5" r="2.7" fill="#000"/>
<path d="M1153 516.5L1154.8 515H1157.3V518H1154.8Z" fill="#5a5a5a"/>
<text x="1152.7" y="529.6" font-family='"Liberation Sans", sans-serif' font-size="12.5" fill="#000" textLength="5.6" lengthAdjust="spacingAndGlyphs">3</text>
<polygon points="1161.00,534.78 1157.78,538.00 1153.22,538.00 1150.00,534.78 1150.00,530.22 1153.22,527.00 1157.78,527.00 1161.00,530.22" fill="#fff"/>
<polygon points="1160.30,534.49 1157.49,537.30 1153.51,537.30 1150.70,534.49 1150.70,530.51 1153.51,527.70 1157.49,527.70 1160.30,530.51" fill="#000"/>
<circle cx="1155.5" cy="532.5" r="3.6" fill="#fff"/>
<circle cx="1155.5" cy="532.5" r="2.7" fill="#000"/>
<path d="M1183 516.5L1184.8 515H1187.3V518H1184.8Z" fill="#5a5a5a"/>
<text x="1182.7" y="529.6" font-family='"Liberation Sans", sans-serif' font-size="12.5" fill="#000" textLength="5.6" lengthAdjust="spacingAndGlyphs">1</text>
<polygon points="1191.00,534.78 1187.78,538.00 1183.22,538.00 1180.00,534.78 1180.00,530.22 1183.22,527.00 1187.78,527.00 1191.00,530.22" fill="#fff"/>
<polygon points="1190.30,534.49 1187.49,537.30 1183.51,537.30 1180.70,534.49 1180.70,530.51 1183.51,527.70 1187.49,527.70 1190.30,530.51" fill="#000"/>
<circle cx="1185.5" cy="532.5" r="3.6" fill="#fff"/>
<circle cx="1185.5" cy="532.5" r="2.7" fill="#000"/>
<polygon points="711.00,527.78 707.78,531.00 703.22,531.00 700.00,527.78 700.00,523.22 703.22,520.00 707.78,520.00 711.00,523.22" fill="#fff"/>
<polygon points="710.30,527.49 707.49,530.30 703.51,530.30 700.70,527.49 700.70,523.51 703.51,520.70 707.49,520.70 710.30,523.51" fill="#000"/>
<circle cx="705.5" cy="525.5" r="3.6" fill="#fff"/>
<circle cx="705.5" cy="525.5" r="2.7" fill="#000"/>
<text x="692" y="540" font-family='"Liberation Sans", sans-serif' font-size="6" fill="#061206" stroke="#061206" stroke-width="0.25" textLength="25" lengthAdjust="spacingAndGlyphs">Közös áll.</text>
<polygon points="741.30,527.90 737.90,531.30 733.10,531.30 729.70,527.90 729.70,523.10 733.10,519.70 737.90,519.70 741.30,523.10" fill="#000"/>
<circle cx="735.5" cy="525.5" r="4.9" fill="#b6ffb6"/>
<circle cx="735.5" cy="525.5" r="3.7" fill="#000"/>
<circle cx="735.5" cy="525.5" r="3.0" fill="#a0f0a0"/>
<text x="723.5" y="538.5" font-family='"Liberation Sans", sans-serif' font-size="9.5" fill="#061206" stroke="#061206" stroke-width="0.18" textLength="25" lengthAdjust="spacingAndGlyphs">Törlés</text>
<polygon points="771.10,527.82 767.82,531.10 763.18,531.10 759.90,527.82 759.90,523.18 763.18,519.90 767.82,519.90 771.10,523.18" fill="#000"/>
<polygon points="770.30,527.49 767.49,530.30 763.51,530.30 760.70,527.49 760.70,523.51 763.51,520.70 767.49,520.70 770.30,523.51" fill="#ff0000"/>
<circle cx="765.5" cy="525.5" r="3.6" fill="#200"/>
<circle cx="765.5" cy="525.5" r="2.8" fill="#ff0000"/>
<text x="752" y="538.5" font-family='"Liberation Sans", sans-serif' font-size="7.5" fill="#061206" stroke="#061206" stroke-width="0.18" textLength="28" lengthAdjust="spacingAndGlyphs">Jelző áll.</text>
<path d="M816 516.5L817.8 515H820.3V518H817.8Z" fill="#fff"/>
<path d="M830 516.5L831.8 515H834.3V518H831.8Z" fill="#5a5a5a"/>
<text x="812" y="526.5" font-family='"Liberation Sans", sans-serif' font-size="5.5" fill="#061206" stroke="#061206" stroke-width="0.25" textLength="27" lengthAdjust="spacingAndGlyphs">Vált/Vissza</text>
<polygon points="831.10,534.82 827.82,538.10 823.18,538.10 819.90,534.82 819.90,530.18 823.18,526.90 827.82,526.90 831.10,530.18" fill="#000"/>
<circle cx="825.5" cy="532.5" r="3.2" fill="#fff"/>
</svg>
</body></html>
